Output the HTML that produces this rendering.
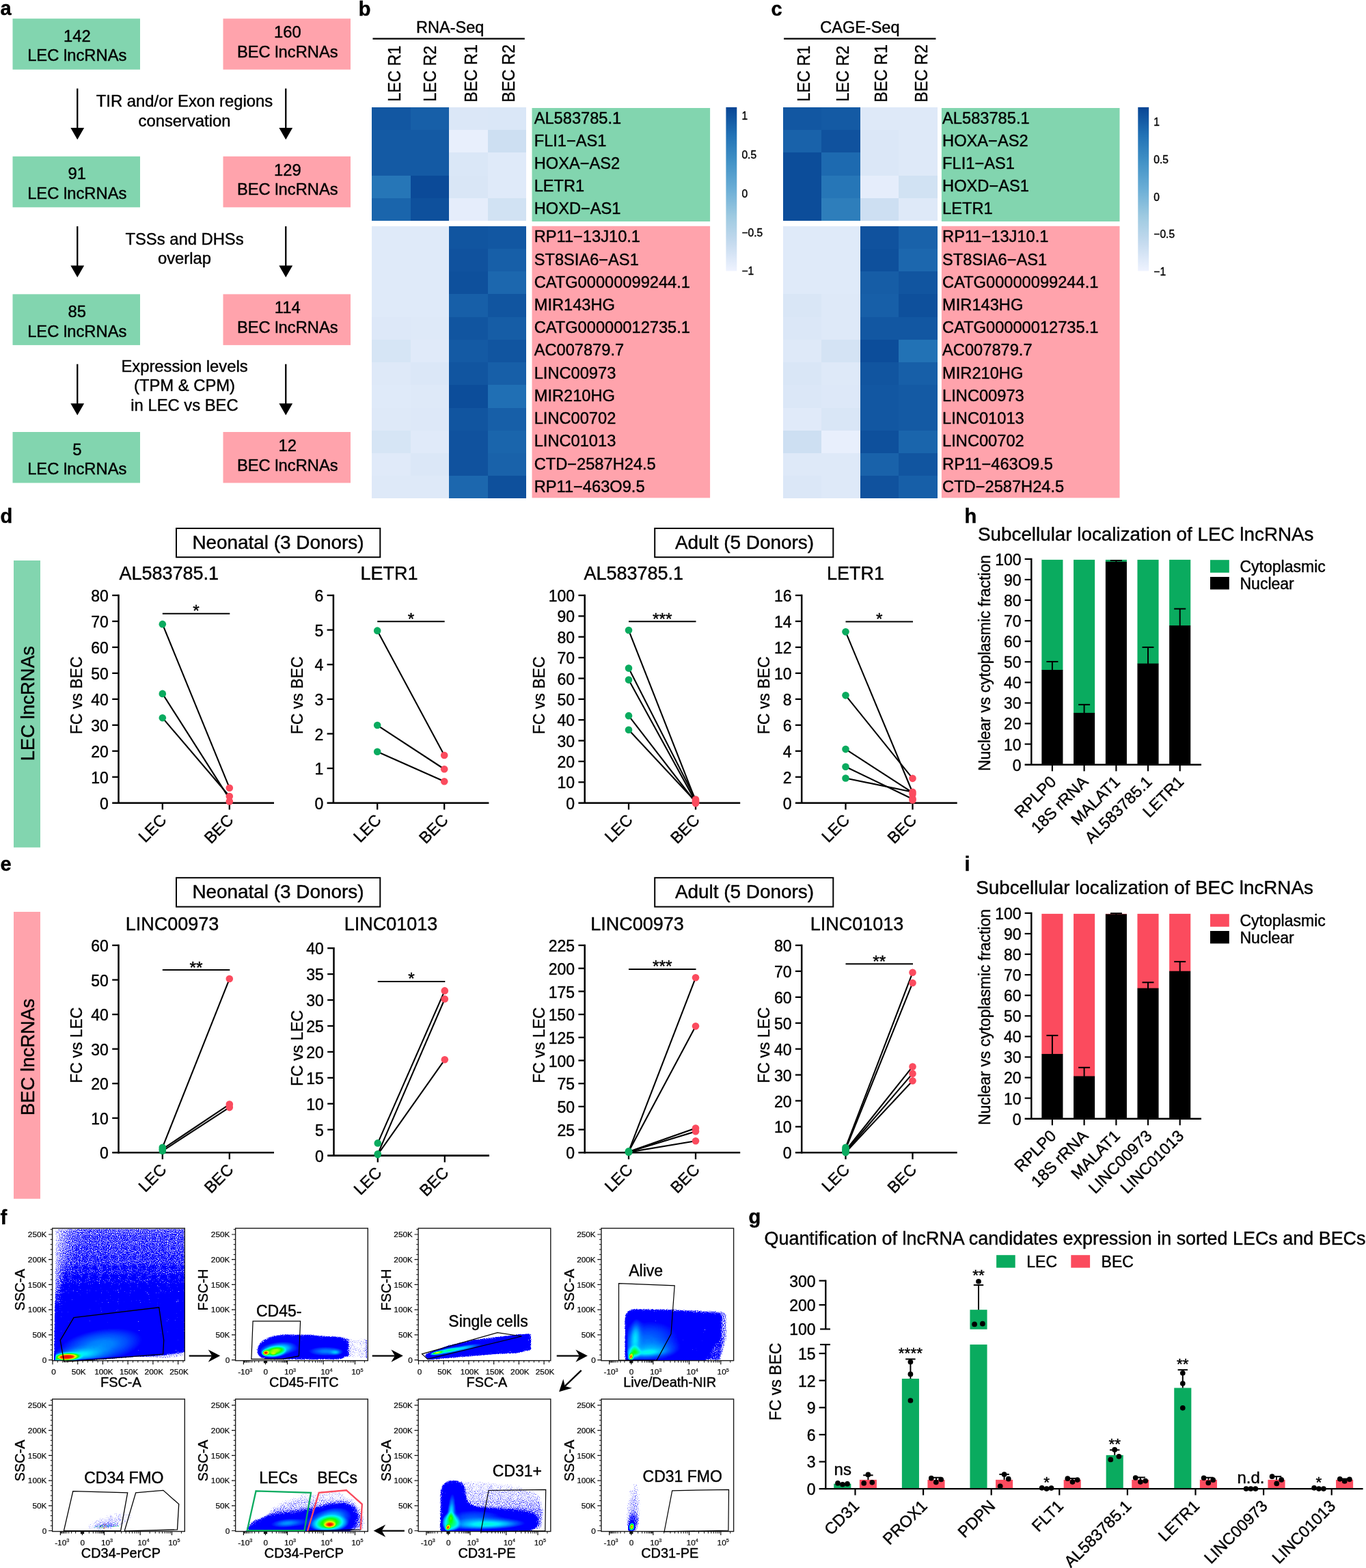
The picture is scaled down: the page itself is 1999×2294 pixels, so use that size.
<!DOCTYPE html>
<html lang="en"><head><meta charset="utf-8"><title>Figure</title>
<style>html,body{margin:0;padding:0;background:#fff}svg{display:block}text{font-family:'Liberation Sans', Arial, Helvetica, sans-serif;stroke:#000;stroke-width:.42px;stroke-linejoin:round}.s{stroke-width:.2px}</style></head>
<body><svg width="1999" height="2294" viewBox="0 0 1999 2294">
<defs>
<linearGradient id="cbb" x1="0" y1="0" x2="0" y2="1"><stop offset="0.0000" stop-color="#084594"/><stop offset="0.1667" stop-color="#2171B5"/><stop offset="0.3333" stop-color="#4292C6"/><stop offset="0.5000" stop-color="#6BAED6"/><stop offset="0.6667" stop-color="#9ECAE1"/><stop offset="0.8333" stop-color="#C6DBEF"/><stop offset="1.0000" stop-color="#EFF3FF"/></linearGradient>
<linearGradient id="cbc" x1="0" y1="0" x2="0" y2="1"><stop offset="0.0000" stop-color="#084594"/><stop offset="0.1667" stop-color="#2171B5"/><stop offset="0.3333" stop-color="#4292C6"/><stop offset="0.5000" stop-color="#6BAED6"/><stop offset="0.6667" stop-color="#9ECAE1"/><stop offset="0.8333" stop-color="#C6DBEF"/><stop offset="1.0000" stop-color="#EFF3FF"/></linearGradient>
<linearGradient id="q1" gradientUnits="userSpaceOnUse" x1="0" y1="0" x2="0" y2="193.6"><stop offset="0" stop-color="#fff" stop-opacity="0.11"/><stop offset="0.26" stop-color="#fff" stop-opacity="0.13"/><stop offset="0.44" stop-color="#fff" stop-opacity="0.15"/><stop offset="0.54" stop-color="#fff" stop-opacity="0.2"/><stop offset="0.62" stop-color="#fff" stop-opacity="0.3"/><stop offset="0.68" stop-color="#fff" stop-opacity="0.33"/><stop offset="1" stop-color="#fff" stop-opacity="0.33"/></linearGradient>
<linearGradient id="q2" gradientUnits="userSpaceOnUse" x1="6" y1="0" x2="45" y2="0"><stop offset="0" stop-color="#fff" stop-opacity="0"/><stop offset="0.5" stop-color="#fff" stop-opacity="0.04"/><stop offset="1" stop-color="#fff" stop-opacity="0.06"/></linearGradient>
<linearGradient id="q3" gradientUnits="userSpaceOnUse" x1="0" y1="0" x2="0" y2="130"><stop offset="0" stop-color="#fff" stop-opacity="0"/><stop offset="0.38" stop-color="#fff" stop-opacity="0.01"/><stop offset="0.54" stop-color="#fff" stop-opacity="0.05"/><stop offset="0.65" stop-color="#fff" stop-opacity="0.11"/><stop offset="0.77" stop-color="#fff" stop-opacity="0.15"/><stop offset="1" stop-color="#fff" stop-opacity="0"/></linearGradient>
<filter id="bl3" x="-50%" y="-50%" width="200%" height="200%"><feGaussianBlur stdDeviation="3"/></filter>
<radialGradient id="q4"><stop offset="0" stop-color="#fff" stop-opacity="0.44"/><stop offset="0.14" stop-color="#fff" stop-opacity="0.418"/><stop offset="0.29" stop-color="#fff" stop-opacity="0.356"/><stop offset="0.43" stop-color="#fff" stop-opacity="0.273"/><stop offset="0.57" stop-color="#fff" stop-opacity="0.188"/><stop offset="0.71" stop-color="#fff" stop-opacity="0.117"/><stop offset="0.86" stop-color="#fff" stop-opacity="0.065"/><stop offset="1" stop-color="#fff" stop-opacity="0"/></radialGradient>
<radialGradient id="q5"><stop offset="0" stop-color="#fff" stop-opacity="0.333"/><stop offset="0.14" stop-color="#fff" stop-opacity="0.307"/><stop offset="0.29" stop-color="#fff" stop-opacity="0.24"/><stop offset="0.43" stop-color="#fff" stop-opacity="0.16"/><stop offset="0.57" stop-color="#fff" stop-opacity="0.09"/><stop offset="0.71" stop-color="#fff" stop-opacity="0.043"/><stop offset="0.86" stop-color="#fff" stop-opacity="0.018"/><stop offset="1" stop-color="#fff" stop-opacity="0"/></radialGradient>
<radialGradient id="q6"><stop offset="0" stop-color="#fff" stop-opacity="1"/><stop offset="0.4" stop-color="#fff" stop-opacity="0.937"/><stop offset="0.52" stop-color="#fff" stop-opacity="0.688"/><stop offset="0.68" stop-color="#fff" stop-opacity="0.437"/><stop offset="0.86" stop-color="#fff" stop-opacity="0.094"/><stop offset="1" stop-color="#fff" stop-opacity="0"/></radialGradient>
<radialGradient id="q7"><stop offset="0" stop-color="#fff" stop-opacity="1"/><stop offset="0.4" stop-color="#fff" stop-opacity="0.444"/><stop offset="1" stop-color="#fff" stop-opacity="0"/></radialGradient>
<filter id="f1" x="0.7" y="0.7" width="192.3" height="192.2" filterUnits="userSpaceOnUse" color-interpolation-filters="sRGB"><feGaussianBlur in="SourceGraphic" stdDeviation="1.0" result="s"/><feTurbulence type="fractalNoise" baseFrequency="0.93" numOctaves="1" seed="2" result="n"/><feComposite in="s" in2="n" operator="arithmetic" k1="4.0" k2="0" k3="0" k4="0" result="p"/><feComponentTransfer in="p" result="m0"><feFuncA type="linear" slope="6.0" intercept="-1.3"/></feComponentTransfer><feGaussianBlur in="m0" stdDeviation="0.42" result="m"/><feColorMatrix in="s" type="matrix" values="0 0 0 1 0 0 0 0 1 0 0 0 0 1 0 0 0 0 0 1" result="g"/><feComponentTransfer in="g" result="c"><feFuncR type="table" tableValues="0 0 0 0 0 0 0 0 0 0 0 0 0 0 0 0 0 0 0 0 0 0 0 0 0 0 0 0 0 0 0 0 0 0 0 0 0 0 0 0.02 0.05 0.08 0.35 0.61 0.83 1 1 1 1 0.98 0.94"/><feFuncG type="table" tableValues="0 0 0 0 0 0 0 0 0 0 0 0 0 0 0 0 0 0 0 0 0 0 0 0 0 0 0.09 0.18 0.26 0.35 0.45 0.54 0.64 0.73 0.82 0.92 0.97 0.98 0.99 1 1 1 1 1 0.97 0.92 0.72 0.51 0.27 0.1 0"/><feFuncB type="table" tableValues="1 1 1 1 1 1 1 1 1 1 1 1 1 1 1 1 1 1 1 1 1 1 1 1 1 1 1 1 1 1 1 1 1 1 1 1 0.92 0.77 0.62 0.44 0.22 0 0 0 0 0 0 0 0 0 0"/></feComponentTransfer><feComposite in="c" in2="m" operator="in"/></filter>
<clipPath id="cf1"><path d="M3.4,0 L194,0 L194,180.6 L162,184.6 L17,195.2 L3.4,195 Z"/></clipPath>
<filter id="bl1" x="-50%" y="-50%" width="200%" height="200%"><feGaussianBlur stdDeviation="1"/></filter>
<filter id="bl1_2" x="-50%" y="-50%" width="200%" height="200%"><feGaussianBlur stdDeviation="1.2"/></filter>
<radialGradient id="q8"><stop offset="0" stop-color="#fff" stop-opacity="0.575"/><stop offset="0.14" stop-color="#fff" stop-opacity="0.53"/><stop offset="0.29" stop-color="#fff" stop-opacity="0.415"/><stop offset="0.43" stop-color="#fff" stop-opacity="0.276"/><stop offset="0.57" stop-color="#fff" stop-opacity="0.156"/><stop offset="0.71" stop-color="#fff" stop-opacity="0.075"/><stop offset="0.86" stop-color="#fff" stop-opacity="0.03"/><stop offset="1" stop-color="#fff" stop-opacity="0"/></radialGradient>
<radialGradient id="q9"><stop offset="0" stop-color="#fff" stop-opacity="0.526"/><stop offset="0.3" stop-color="#fff" stop-opacity="0.526"/><stop offset="0.6" stop-color="#fff" stop-opacity="0.395"/><stop offset="0.85" stop-color="#fff" stop-opacity="0.237"/><stop offset="1" stop-color="#fff" stop-opacity="0"/></radialGradient>
<radialGradient id="q10"><stop offset="0" stop-color="#fff" stop-opacity="0.444"/><stop offset="0.5" stop-color="#fff" stop-opacity="0.278"/><stop offset="1" stop-color="#fff" stop-opacity="0"/></radialGradient>
<radialGradient id="q11"><stop offset="0" stop-color="#fff" stop-opacity="1"/><stop offset="0.4" stop-color="#fff" stop-opacity="0.913"/><stop offset="0.6" stop-color="#fff" stop-opacity="0.565"/><stop offset="0.8" stop-color="#fff" stop-opacity="0.217"/><stop offset="1" stop-color="#fff" stop-opacity="0"/></radialGradient>
<radialGradient id="q12"><stop offset="0" stop-color="#fff" stop-opacity="0.367"/><stop offset="0.14" stop-color="#fff" stop-opacity="0.343"/><stop offset="0.29" stop-color="#fff" stop-opacity="0.28"/><stop offset="0.43" stop-color="#fff" stop-opacity="0.2"/><stop offset="0.57" stop-color="#fff" stop-opacity="0.125"/><stop offset="0.71" stop-color="#fff" stop-opacity="0.068"/><stop offset="0.86" stop-color="#fff" stop-opacity="0.032"/><stop offset="1" stop-color="#fff" stop-opacity="0"/></radialGradient>
<radialGradient id="q13"><stop offset="0" stop-color="#fff" stop-opacity="0.3"/><stop offset="0.14" stop-color="#fff" stop-opacity="0.276"/><stop offset="0.29" stop-color="#fff" stop-opacity="0.216"/><stop offset="0.43" stop-color="#fff" stop-opacity="0.144"/><stop offset="0.57" stop-color="#fff" stop-opacity="0.081"/><stop offset="0.71" stop-color="#fff" stop-opacity="0.039"/><stop offset="0.86" stop-color="#fff" stop-opacity="0.016"/><stop offset="1" stop-color="#fff" stop-opacity="0"/></radialGradient>
<filter id="f2" x="0.7" y="0.7" width="192.3" height="192.2" filterUnits="userSpaceOnUse" color-interpolation-filters="sRGB"><feGaussianBlur in="SourceGraphic" stdDeviation="1.0" result="s"/><feTurbulence type="fractalNoise" baseFrequency="0.93" numOctaves="1" seed="5" result="n"/><feComposite in="s" in2="n" operator="arithmetic" k1="4.0" k2="0" k3="0" k4="0" result="p"/><feComponentTransfer in="p" result="m0"><feFuncA type="linear" slope="6.0" intercept="-1.3"/></feComponentTransfer><feGaussianBlur in="m0" stdDeviation="0.42" result="m"/><feColorMatrix in="s" type="matrix" values="0 0 0 1 0 0 0 0 1 0 0 0 0 1 0 0 0 0 0 1" result="g"/><feComponentTransfer in="g" result="c"><feFuncR type="table" tableValues="0 0 0 0 0 0 0 0 0 0 0 0 0 0 0 0 0 0 0 0 0 0 0 0 0 0 0 0 0 0 0 0 0 0 0 0 0 0 0 0.02 0.05 0.08 0.35 0.61 0.83 1 1 1 1 0.98 0.94"/><feFuncG type="table" tableValues="0 0 0 0 0 0 0 0 0 0 0 0 0 0 0 0 0 0 0 0 0 0 0 0 0 0 0.09 0.18 0.26 0.35 0.45 0.54 0.64 0.73 0.82 0.92 0.97 0.98 0.99 1 1 1 1 1 0.97 0.92 0.72 0.51 0.27 0.1 0"/><feFuncB type="table" tableValues="1 1 1 1 1 1 1 1 1 1 1 1 1 1 1 1 1 1 1 1 1 1 1 1 1 1 1 1 1 1 1 1 1 1 1 1 0.92 0.77 0.62 0.44 0.22 0 0 0 0 0 0 0 0 0 0"/></feComponentTransfer><feComposite in="c" in2="m" operator="in"/></filter>
<clipPath id="cf2"><path d="M34,180 C34,166 52,157.5 76,157.2 L110,157.8 C128,160.5 145,160 153,161 C159,162 161.8,166 161.8,172 L161.8,181 C161.8,187 157,190.6 147,190.6 L52,190.6 C41,190 34,186 34,180 Z"/></clipPath>
<radialGradient id="q14"><stop offset="0" stop-color="#fff" stop-opacity="0.55"/><stop offset="0.14" stop-color="#fff" stop-opacity="0.507"/><stop offset="0.29" stop-color="#fff" stop-opacity="0.397"/><stop offset="0.43" stop-color="#fff" stop-opacity="0.264"/><stop offset="0.57" stop-color="#fff" stop-opacity="0.149"/><stop offset="0.71" stop-color="#fff" stop-opacity="0.071"/><stop offset="0.86" stop-color="#fff" stop-opacity="0.029"/><stop offset="1" stop-color="#fff" stop-opacity="0"/></radialGradient>
<radialGradient id="q15"><stop offset="0" stop-color="#fff" stop-opacity="0.379"/><stop offset="0.4" stop-color="#fff" stop-opacity="0.379"/><stop offset="0.7" stop-color="#fff" stop-opacity="0.207"/><stop offset="1" stop-color="#fff" stop-opacity="0"/></radialGradient>
<radialGradient id="q16"><stop offset="0" stop-color="#fff" stop-opacity="1"/><stop offset="0.5" stop-color="#fff" stop-opacity="0.667"/><stop offset="0.75" stop-color="#fff" stop-opacity="0.444"/><stop offset="1" stop-color="#fff" stop-opacity="0"/></radialGradient>
<filter id="f3" x="0.7" y="0.7" width="192.3" height="192.2" filterUnits="userSpaceOnUse" color-interpolation-filters="sRGB"><feGaussianBlur in="SourceGraphic" stdDeviation="0.8" result="s"/><feTurbulence type="fractalNoise" baseFrequency="0.93" numOctaves="1" seed="7" result="n"/><feComposite in="s" in2="n" operator="arithmetic" k1="4.0" k2="0" k3="0" k4="0" result="p"/><feComponentTransfer in="p" result="m0"><feFuncA type="linear" slope="6.0" intercept="-1.3"/></feComponentTransfer><feGaussianBlur in="m0" stdDeviation="0.42" result="m"/><feColorMatrix in="s" type="matrix" values="0 0 0 1 0 0 0 0 1 0 0 0 0 1 0 0 0 0 0 1" result="g"/><feComponentTransfer in="g" result="c"><feFuncR type="table" tableValues="0 0 0 0 0 0 0 0 0 0 0 0 0 0 0 0 0 0 0 0 0 0 0 0 0 0 0 0 0 0 0 0 0 0 0 0 0 0 0 0.02 0.05 0.08 0.35 0.61 0.83 1 1 1 1 0.98 0.94"/><feFuncG type="table" tableValues="0 0 0 0 0 0 0 0 0 0 0 0 0 0 0 0 0 0 0 0 0 0 0 0 0 0 0.09 0.18 0.26 0.35 0.45 0.54 0.64 0.73 0.82 0.92 0.97 0.98 0.99 1 1 1 1 1 0.97 0.92 0.72 0.51 0.27 0.1 0"/><feFuncB type="table" tableValues="1 1 1 1 1 1 1 1 1 1 1 1 1 1 1 1 1 1 1 1 1 1 1 1 1 1 1 1 1 1 1 1 1 1 1 1 0.92 0.77 0.62 0.44 0.22 0 0 0 0 0 0 0 0 0 0"/></feComponentTransfer><feComposite in="c" in2="m" operator="in"/></filter>
<clipPath id="cf3"><path d="M11.1,188.1 L11.8,185.1 L45.1,172.4 L78.6,164.9 L112.1,160.7 L145.5,156.5 L164,155.6 L164,177 L145.5,181.2 L112.1,182.9 L61.8,187.1 L15,191.2 Z"/></clipPath>
<radialGradient id="q17"><stop offset="0" stop-color="#fff" stop-opacity="0.333"/><stop offset="0.14" stop-color="#fff" stop-opacity="0.316"/><stop offset="0.29" stop-color="#fff" stop-opacity="0.27"/><stop offset="0.43" stop-color="#fff" stop-opacity="0.207"/><stop offset="0.57" stop-color="#fff" stop-opacity="0.143"/><stop offset="0.71" stop-color="#fff" stop-opacity="0.088"/><stop offset="0.86" stop-color="#fff" stop-opacity="0.049"/><stop offset="1" stop-color="#fff" stop-opacity="0"/></radialGradient>
<radialGradient id="q18"><stop offset="0" stop-color="#fff" stop-opacity="0.2"/><stop offset="0.14" stop-color="#fff" stop-opacity="0.184"/><stop offset="0.29" stop-color="#fff" stop-opacity="0.144"/><stop offset="0.43" stop-color="#fff" stop-opacity="0.096"/><stop offset="0.57" stop-color="#fff" stop-opacity="0.054"/><stop offset="0.71" stop-color="#fff" stop-opacity="0.026"/><stop offset="0.86" stop-color="#fff" stop-opacity="0.011"/><stop offset="1" stop-color="#fff" stop-opacity="0"/></radialGradient>
<radialGradient id="q19"><stop offset="0" stop-color="#fff" stop-opacity="0.292"/><stop offset="0.14" stop-color="#fff" stop-opacity="0.269"/><stop offset="0.29" stop-color="#fff" stop-opacity="0.21"/><stop offset="0.43" stop-color="#fff" stop-opacity="0.14"/><stop offset="0.57" stop-color="#fff" stop-opacity="0.079"/><stop offset="0.71" stop-color="#fff" stop-opacity="0.038"/><stop offset="0.86" stop-color="#fff" stop-opacity="0.015"/><stop offset="1" stop-color="#fff" stop-opacity="0"/></radialGradient>
<radialGradient id="q20"><stop offset="0" stop-color="#fff" stop-opacity="0.25"/><stop offset="0.14" stop-color="#fff" stop-opacity="0.23"/><stop offset="0.29" stop-color="#fff" stop-opacity="0.18"/><stop offset="0.43" stop-color="#fff" stop-opacity="0.12"/><stop offset="0.57" stop-color="#fff" stop-opacity="0.068"/><stop offset="0.71" stop-color="#fff" stop-opacity="0.032"/><stop offset="0.86" stop-color="#fff" stop-opacity="0.013"/><stop offset="1" stop-color="#fff" stop-opacity="0"/></radialGradient>
<radialGradient id="q21"><stop offset="0" stop-color="#fff" stop-opacity="0.471"/><stop offset="0.4" stop-color="#fff" stop-opacity="0.324"/><stop offset="0.75" stop-color="#fff" stop-opacity="0.147"/><stop offset="1" stop-color="#fff" stop-opacity="0"/></radialGradient>
<radialGradient id="q22"><stop offset="0" stop-color="#fff" stop-opacity="1"/><stop offset="0.35" stop-color="#fff" stop-opacity="0.913"/><stop offset="0.55" stop-color="#fff" stop-opacity="0.565"/><stop offset="0.8" stop-color="#fff" stop-opacity="0.217"/><stop offset="1" stop-color="#fff" stop-opacity="0"/></radialGradient>
<filter id="f4" x="0.7" y="0.7" width="192.3" height="192.2" filterUnits="userSpaceOnUse" color-interpolation-filters="sRGB"><feGaussianBlur in="SourceGraphic" stdDeviation="1.0" result="s"/><feTurbulence type="fractalNoise" baseFrequency="0.93" numOctaves="1" seed="9" result="n"/><feComposite in="s" in2="n" operator="arithmetic" k1="4.0" k2="0" k3="0" k4="0" result="p"/><feComponentTransfer in="p" result="m0"><feFuncA type="linear" slope="6.0" intercept="-1.3"/></feComponentTransfer><feGaussianBlur in="m0" stdDeviation="0.42" result="m"/><feColorMatrix in="s" type="matrix" values="0 0 0 1 0 0 0 0 1 0 0 0 0 1 0 0 0 0 0 1" result="g"/><feComponentTransfer in="g" result="c"><feFuncR type="table" tableValues="0 0 0 0 0 0 0 0 0 0 0 0 0 0 0 0 0 0 0 0 0 0 0 0 0 0 0 0 0 0 0 0 0 0 0 0 0 0 0 0.02 0.05 0.08 0.35 0.61 0.83 1 1 1 1 0.98 0.94"/><feFuncG type="table" tableValues="0 0 0 0 0 0 0 0 0 0 0 0 0 0 0 0 0 0 0 0 0 0 0 0 0 0 0.09 0.18 0.26 0.35 0.45 0.54 0.64 0.73 0.82 0.92 0.97 0.98 0.99 1 1 1 1 1 0.97 0.92 0.72 0.51 0.27 0.1 0"/><feFuncB type="table" tableValues="1 1 1 1 1 1 1 1 1 1 1 1 1 1 1 1 1 1 1 1 1 1 1 1 1 1 1 1 1 1 1 1 1 1 1 1 0.92 0.77 0.62 0.44 0.22 0 0 0 0 0 0 0 0 0 0"/></feComponentTransfer><feComposite in="c" in2="m" operator="in"/></filter>
<clipPath id="cf4"><path d="M36.4,194 L36.4,134 C36.4,125 41,120.3 50,120.3 L98,121 L172,125.5 L175,129 L174,160 L163,172 L150,194 Z"/></clipPath>
<radialGradient id="q23"><stop offset="0" stop-color="#fff" stop-opacity="0.114"/><stop offset="0.4" stop-color="#fff" stop-opacity="0.109"/><stop offset="0.75" stop-color="#fff" stop-opacity="0.102"/><stop offset="1" stop-color="#fff" stop-opacity="0.09"/></radialGradient>
<radialGradient id="q24"><stop offset="0" stop-color="#fff" stop-opacity="0.05"/><stop offset="0.6" stop-color="#fff" stop-opacity="0.03"/><stop offset="1" stop-color="#fff" stop-opacity="0"/></radialGradient>
<filter id="f5" x="0.7" y="0.7" width="192.3" height="192.2" filterUnits="userSpaceOnUse" color-interpolation-filters="sRGB"><feGaussianBlur in="SourceGraphic" stdDeviation="0.5" result="s"/><feTurbulence type="fractalNoise" baseFrequency="0.93" numOctaves="1" seed="11" result="n"/><feComposite in="s" in2="n" operator="arithmetic" k1="4.0" k2="0" k3="0" k4="0" result="p"/><feComponentTransfer in="p" result="m0"><feFuncA type="linear" slope="6.0" intercept="-1.3"/></feComponentTransfer><feGaussianBlur in="m0" stdDeviation="0.42" result="m"/><feColorMatrix in="s" type="matrix" values="0 0 0 1 0 0 0 0 1 0 0 0 0 1 0 0 0 0 0 1" result="g"/><feComponentTransfer in="g" result="c"><feFuncR type="table" tableValues="0 0 0 0 0 0 0 0 0 0 0 0 0 0 0 0 0 0 0 0 0 0 0 0 0 0 0 0 0 0 0 0 0 0 0 0 0 0 0 0.02 0.05 0.08 0.35 0.61 0.83 1 1 1 1 0.98 0.94"/><feFuncG type="table" tableValues="0 0 0 0 0 0 0 0 0 0 0 0 0 0 0 0 0 0 0 0 0 0 0 0 0 0 0.09 0.18 0.26 0.35 0.45 0.54 0.64 0.73 0.82 0.92 0.97 0.98 0.99 1 1 1 1 1 0.97 0.92 0.72 0.51 0.27 0.1 0"/><feFuncB type="table" tableValues="1 1 1 1 1 1 1 1 1 1 1 1 1 1 1 1 1 1 1 1 1 1 1 1 1 1 1 1 1 1 1 1 1 1 1 1 0.92 0.77 0.62 0.44 0.22 0 0 0 0 0 0 0 0 0 0"/></feComponentTransfer><feComposite in="c" in2="m" operator="in"/></filter>
<linearGradient id="q25" gradientUnits="userSpaceOnUse" x1="0" y1="130" x2="0" y2="172"><stop offset="0" stop-color="#fff" stop-opacity="0.1"/><stop offset="0.4" stop-color="#fff" stop-opacity="0.11"/><stop offset="0.8" stop-color="#fff" stop-opacity="0.13"/><stop offset="1" stop-color="#fff" stop-opacity="0.15"/></linearGradient>
<filter id="bl5" x="-50%" y="-50%" width="200%" height="200%"><feGaussianBlur stdDeviation="5"/></filter>
<filter id="bl2" x="-50%" y="-50%" width="200%" height="200%"><feGaussianBlur stdDeviation="2"/></filter>
<radialGradient id="q26"><stop offset="0" stop-color="#fff" stop-opacity="0.362"/><stop offset="0.14" stop-color="#fff" stop-opacity="0.334"/><stop offset="0.29" stop-color="#fff" stop-opacity="0.261"/><stop offset="0.43" stop-color="#fff" stop-opacity="0.174"/><stop offset="0.57" stop-color="#fff" stop-opacity="0.098"/><stop offset="0.71" stop-color="#fff" stop-opacity="0.047"/><stop offset="0.86" stop-color="#fff" stop-opacity="0.019"/><stop offset="1" stop-color="#fff" stop-opacity="0"/></radialGradient>
<radialGradient id="q27"><stop offset="0" stop-color="#fff" stop-opacity="0.483"/><stop offset="0.14" stop-color="#fff" stop-opacity="0.445"/><stop offset="0.29" stop-color="#fff" stop-opacity="0.348"/><stop offset="0.43" stop-color="#fff" stop-opacity="0.232"/><stop offset="0.57" stop-color="#fff" stop-opacity="0.131"/><stop offset="0.71" stop-color="#fff" stop-opacity="0.063"/><stop offset="0.86" stop-color="#fff" stop-opacity="0.026"/><stop offset="1" stop-color="#fff" stop-opacity="0"/></radialGradient>
<radialGradient id="q28"><stop offset="0" stop-color="#fff" stop-opacity="0.486"/><stop offset="0.45" stop-color="#fff" stop-opacity="0.486"/><stop offset="0.62" stop-color="#fff" stop-opacity="0.343"/><stop offset="0.82" stop-color="#fff" stop-opacity="0.171"/><stop offset="1" stop-color="#fff" stop-opacity="0"/></radialGradient>
<radialGradient id="q29"><stop offset="0" stop-color="#fff" stop-opacity="1"/><stop offset="0.36" stop-color="#fff" stop-opacity="0.889"/><stop offset="0.6" stop-color="#fff" stop-opacity="0.667"/><stop offset="0.82" stop-color="#fff" stop-opacity="0.444"/><stop offset="1" stop-color="#fff" stop-opacity="0"/></radialGradient>
<filter id="f6" x="0.7" y="0.7" width="192.3" height="192.2" filterUnits="userSpaceOnUse" color-interpolation-filters="sRGB"><feGaussianBlur in="SourceGraphic" stdDeviation="1.0" result="s"/><feTurbulence type="fractalNoise" baseFrequency="0.93" numOctaves="1" seed="13" result="n"/><feComposite in="s" in2="n" operator="arithmetic" k1="4.0" k2="0" k3="0" k4="0" result="p"/><feComponentTransfer in="p" result="m0"><feFuncA type="linear" slope="6.0" intercept="-1.3"/></feComponentTransfer><feGaussianBlur in="m0" stdDeviation="0.42" result="m"/><feColorMatrix in="s" type="matrix" values="0 0 0 1 0 0 0 0 1 0 0 0 0 1 0 0 0 0 0 1" result="g"/><feComponentTransfer in="g" result="c"><feFuncR type="table" tableValues="0 0 0 0 0 0 0 0 0 0 0 0 0 0 0 0 0 0 0 0 0 0 0 0 0 0 0 0 0 0 0 0 0 0 0 0 0 0 0 0.02 0.05 0.08 0.35 0.61 0.83 1 1 1 1 0.98 0.94"/><feFuncG type="table" tableValues="0 0 0 0 0 0 0 0 0 0 0 0 0 0 0 0 0 0 0 0 0 0 0 0 0 0 0.09 0.18 0.26 0.35 0.45 0.54 0.64 0.73 0.82 0.92 0.97 0.98 0.99 1 1 1 1 1 0.97 0.92 0.72 0.51 0.27 0.1 0"/><feFuncB type="table" tableValues="1 1 1 1 1 1 1 1 1 1 1 1 1 1 1 1 1 1 1 1 1 1 1 1 1 1 1 1 1 1 1 1 1 1 1 1 0.92 0.77 0.62 0.44 0.22 0 0 0 0 0 0 0 0 0 0"/></feComponentTransfer><feComposite in="c" in2="m" operator="in"/></filter>
<clipPath id="cf6"><path d="M19.5,194 L22.5,185.5 L27,179.5 L59.3,171.4 L92.8,167.2 L117.9,162.5 L143,155.8 L159,155 L171,160.5 L174.5,171.3 L171.5,184 L163,194 Z"/></clipPath>
<linearGradient id="q30" gradientUnits="userSpaceOnUse" x1="0" y1="116" x2="0" y2="164"><stop offset="0" stop-color="#fff" stop-opacity="0.1"/><stop offset="0.3" stop-color="#fff" stop-opacity="0.11"/><stop offset="0.7" stop-color="#fff" stop-opacity="0.12"/><stop offset="1" stop-color="#fff" stop-opacity="0.14"/></linearGradient>
<filter id="bl1_5" x="-50%" y="-50%" width="200%" height="200%"><feGaussianBlur stdDeviation="1.5"/></filter>
<radialGradient id="q31"><stop offset="0" stop-color="#fff" stop-opacity="0.414"/><stop offset="0.14" stop-color="#fff" stop-opacity="0.381"/><stop offset="0.29" stop-color="#fff" stop-opacity="0.299"/><stop offset="0.43" stop-color="#fff" stop-opacity="0.198"/><stop offset="0.57" stop-color="#fff" stop-opacity="0.112"/><stop offset="0.71" stop-color="#fff" stop-opacity="0.054"/><stop offset="0.86" stop-color="#fff" stop-opacity="0.022"/><stop offset="1" stop-color="#fff" stop-opacity="0"/></radialGradient>
<radialGradient id="q32"><stop offset="0" stop-color="#fff" stop-opacity="0.284"/><stop offset="0.14" stop-color="#fff" stop-opacity="0.269"/><stop offset="0.29" stop-color="#fff" stop-opacity="0.227"/><stop offset="0.43" stop-color="#fff" stop-opacity="0.171"/><stop offset="0.57" stop-color="#fff" stop-opacity="0.115"/><stop offset="0.71" stop-color="#fff" stop-opacity="0.069"/><stop offset="0.86" stop-color="#fff" stop-opacity="0.037"/><stop offset="1" stop-color="#fff" stop-opacity="0"/></radialGradient>
<radialGradient id="q33"><stop offset="0" stop-color="#fff" stop-opacity="0.45"/><stop offset="0.14" stop-color="#fff" stop-opacity="0.424"/><stop offset="0.29" stop-color="#fff" stop-opacity="0.353"/><stop offset="0.43" stop-color="#fff" stop-opacity="0.261"/><stop offset="0.57" stop-color="#fff" stop-opacity="0.17"/><stop offset="0.71" stop-color="#fff" stop-opacity="0.099"/><stop offset="0.86" stop-color="#fff" stop-opacity="0.051"/><stop offset="1" stop-color="#fff" stop-opacity="0"/></radialGradient>
<radialGradient id="q34"><stop offset="0" stop-color="#fff" stop-opacity="0.325"/><stop offset="0.14" stop-color="#fff" stop-opacity="0.3"/><stop offset="0.29" stop-color="#fff" stop-opacity="0.234"/><stop offset="0.43" stop-color="#fff" stop-opacity="0.156"/><stop offset="0.57" stop-color="#fff" stop-opacity="0.088"/><stop offset="0.71" stop-color="#fff" stop-opacity="0.042"/><stop offset="0.86" stop-color="#fff" stop-opacity="0.017"/><stop offset="1" stop-color="#fff" stop-opacity="0"/></radialGradient>
<radialGradient id="q35"><stop offset="0" stop-color="#fff" stop-opacity="0.471"/><stop offset="0.45" stop-color="#fff" stop-opacity="0.471"/><stop offset="0.7" stop-color="#fff" stop-opacity="0.324"/><stop offset="1" stop-color="#fff" stop-opacity="0"/></radialGradient>
<radialGradient id="q36"><stop offset="0" stop-color="#fff" stop-opacity="1"/><stop offset="0.4" stop-color="#fff" stop-opacity="0.889"/><stop offset="0.6" stop-color="#fff" stop-opacity="0.444"/><stop offset="0.85" stop-color="#fff" stop-opacity="0"/><stop offset="1" stop-color="#fff" stop-opacity="0"/></radialGradient>
<filter id="f7" x="0.7" y="0.7" width="192.3" height="192.2" filterUnits="userSpaceOnUse" color-interpolation-filters="sRGB"><feGaussianBlur in="SourceGraphic" stdDeviation="1.0" result="s"/><feTurbulence type="fractalNoise" baseFrequency="0.93" numOctaves="1" seed="17" result="n"/><feComposite in="s" in2="n" operator="arithmetic" k1="4.0" k2="0" k3="0" k4="0" result="p"/><feComponentTransfer in="p" result="m0"><feFuncA type="linear" slope="6.0" intercept="-1.3"/></feComponentTransfer><feGaussianBlur in="m0" stdDeviation="0.42" result="m"/><feColorMatrix in="s" type="matrix" values="0 0 0 1 0 0 0 0 1 0 0 0 0 1 0 0 0 0 0 1" result="g"/><feComponentTransfer in="g" result="c"><feFuncR type="table" tableValues="0 0 0 0 0 0 0 0 0 0 0 0 0 0 0 0 0 0 0 0 0 0 0 0 0 0 0 0 0 0 0 0 0 0 0 0 0 0 0 0.02 0.05 0.08 0.35 0.61 0.83 1 1 1 1 0.98 0.94"/><feFuncG type="table" tableValues="0 0 0 0 0 0 0 0 0 0 0 0 0 0 0 0 0 0 0 0 0 0 0 0 0 0 0.09 0.18 0.26 0.35 0.45 0.54 0.64 0.73 0.82 0.92 0.97 0.98 0.99 1 1 1 1 1 0.97 0.92 0.72 0.51 0.27 0.1 0"/><feFuncB type="table" tableValues="1 1 1 1 1 1 1 1 1 1 1 1 1 1 1 1 1 1 1 1 1 1 1 1 1 1 1 1 1 1 1 1 1 1 1 1 0.92 0.77 0.62 0.44 0.22 0 0 0 0 0 0 0 0 0 0"/></feComponentTransfer><feComposite in="c" in2="m" operator="in"/></filter>
<clipPath id="cf7"><path d="M33.2,194 L33.4,140 C33.4,127 39,120 50,120 C59,120 65,125 66,134 C67.5,148 72,156 86,160 L140,164.5 C162,166 173,171 173,179 C173,186 167,191 156,194 Z"/></clipPath>
<radialGradient id="q37"><stop offset="0" stop-color="#fff" stop-opacity="0.13"/><stop offset="0.5" stop-color="#fff" stop-opacity="0.118"/><stop offset="1" stop-color="#fff" stop-opacity="0.09"/></radialGradient>
<radialGradient id="q38"><stop offset="0" stop-color="#fff" stop-opacity="0.03"/><stop offset="1" stop-color="#fff" stop-opacity="0"/></radialGradient>
<radialGradient id="q39"><stop offset="0" stop-color="#fff" stop-opacity="0.1"/><stop offset="0.5" stop-color="#fff" stop-opacity="0.06"/><stop offset="1" stop-color="#fff" stop-opacity="0"/></radialGradient>
<radialGradient id="q40"><stop offset="0" stop-color="#fff" stop-opacity="1"/><stop offset="0.14" stop-color="#fff" stop-opacity="0.9"/><stop offset="0.3" stop-color="#fff" stop-opacity="0.82"/><stop offset="0.5" stop-color="#fff" stop-opacity="0.71"/><stop offset="0.68" stop-color="#fff" stop-opacity="0.3"/><stop offset="0.85" stop-color="#fff" stop-opacity="0.08"/><stop offset="1" stop-color="#fff" stop-opacity="0"/></radialGradient>
<filter id="f8" x="0.7" y="0.7" width="192.3" height="192.2" filterUnits="userSpaceOnUse" color-interpolation-filters="sRGB"><feGaussianBlur in="SourceGraphic" stdDeviation="0.5" result="s"/><feTurbulence type="fractalNoise" baseFrequency="0.93" numOctaves="1" seed="19" result="n"/><feComposite in="s" in2="n" operator="arithmetic" k1="4.0" k2="0" k3="0" k4="0" result="p"/><feComponentTransfer in="p" result="m0"><feFuncA type="linear" slope="6.0" intercept="-1.3"/></feComponentTransfer><feGaussianBlur in="m0" stdDeviation="0.42" result="m"/><feColorMatrix in="s" type="matrix" values="0 0 0 1 0 0 0 0 1 0 0 0 0 1 0 0 0 0 0 1" result="g"/><feComponentTransfer in="g" result="c"><feFuncR type="table" tableValues="0 0 0 0 0 0 0 0 0 0 0 0 0 0 0 0 0 0 0 0 0 0 0 0 0 0 0 0 0 0 0 0 0 0 0 0 0 0 0 0.02 0.05 0.08 0.35 0.61 0.83 1 1 1 1 0.98 0.94"/><feFuncG type="table" tableValues="0 0 0 0 0 0 0 0 0 0 0 0 0 0 0 0 0 0 0 0 0 0 0 0 0 0 0.09 0.18 0.26 0.35 0.45 0.54 0.64 0.73 0.82 0.92 0.97 0.98 0.99 1 1 1 1 1 0.97 0.92 0.72 0.51 0.27 0.1 0"/><feFuncB type="table" tableValues="1 1 1 1 1 1 1 1 1 1 1 1 1 1 1 1 1 1 1 1 1 1 1 1 1 1 1 1 1 1 1 1 1 1 1 1 0.92 0.77 0.62 0.44 0.22 0 0 0 0 0 0 0 0 0 0"/></feComponentTransfer><feComposite in="c" in2="m" operator="in"/></filter>
</defs>
<rect width="1999" height="2294" fill="#fff"/>
<text x="0.5" y="22" font-size="29" font-weight="bold" >a</text>
<rect x="18.5" y="27.25" width="186.5" height="74.5" fill="#82D5AF" />
<rect x="326.5" y="27.25" width="186.5" height="74.5" fill="#FFA3AC" />
<text x="112.8" y="60.75" font-size="23.8" text-anchor="middle" >142</text>
<text x="112.8" y="89.45" font-size="23.8" text-anchor="middle" textLength="145.3" lengthAdjust="spacingAndGlyphs" >LEC lncRNAs</text>
<text x="420.8" y="55.05" font-size="23.8" text-anchor="middle" >160</text>
<text x="420.8" y="83.75" font-size="23.8" text-anchor="middle" textLength="147.6" lengthAdjust="spacingAndGlyphs" >BEC lncRNAs</text>
<rect x="18.5" y="228.8" width="186.5" height="74.5" fill="#82D5AF" />
<rect x="326.5" y="228.8" width="186.5" height="74.5" fill="#FFA3AC" />
<text x="112.8" y="262.3" font-size="23.8" text-anchor="middle" >91</text>
<text x="112.8" y="291" font-size="23.8" text-anchor="middle" textLength="145.3" lengthAdjust="spacingAndGlyphs" >LEC lncRNAs</text>
<text x="420.8" y="256.6" font-size="23.8" text-anchor="middle" >129</text>
<text x="420.8" y="285.3" font-size="23.8" text-anchor="middle" textLength="147.6" lengthAdjust="spacingAndGlyphs" >BEC lncRNAs</text>
<rect x="18.5" y="430.4" width="186.5" height="74.5" fill="#82D5AF" />
<rect x="326.5" y="430.4" width="186.5" height="74.5" fill="#FFA3AC" />
<text x="112.8" y="463.9" font-size="23.8" text-anchor="middle" >85</text>
<text x="112.8" y="492.6" font-size="23.8" text-anchor="middle" textLength="145.3" lengthAdjust="spacingAndGlyphs" >LEC lncRNAs</text>
<text x="420.8" y="458.2" font-size="23.8" text-anchor="middle" >114</text>
<text x="420.8" y="486.9" font-size="23.8" text-anchor="middle" textLength="147.6" lengthAdjust="spacingAndGlyphs" >BEC lncRNAs</text>
<rect x="18.5" y="632" width="186.5" height="74.5" fill="#82D5AF" />
<rect x="326.5" y="632" width="186.5" height="74.5" fill="#FFA3AC" />
<text x="112.8" y="665.5" font-size="23.8" text-anchor="middle" >5</text>
<text x="112.8" y="694.2" font-size="23.8" text-anchor="middle" textLength="145.3" lengthAdjust="spacingAndGlyphs" >LEC lncRNAs</text>
<text x="420.8" y="659.8" font-size="23.8" text-anchor="middle" >12</text>
<text x="420.8" y="688.5" font-size="23.8" text-anchor="middle" textLength="147.6" lengthAdjust="spacingAndGlyphs" >BEC lncRNAs</text>
<line x1="113.25" y1="129.5" x2="113.25" y2="187.95" stroke="#000" stroke-width="2.3" stroke-linecap="butt" />
<polygon points="113.25,204.25 103.35,186.95 123.15,186.95" fill="#000" stroke="none" stroke-width="0" stroke-linejoin="miter" />
<line x1="418.25" y1="129.5" x2="418.25" y2="187.95" stroke="#000" stroke-width="2.3" stroke-linecap="butt" />
<polygon points="418.25,204.25 408.35,186.95 428.15,186.95" fill="#000" stroke="none" stroke-width="0" stroke-linejoin="miter" />
<line x1="113.25" y1="331.1" x2="113.25" y2="389.55" stroke="#000" stroke-width="2.3" stroke-linecap="butt" />
<polygon points="113.25,405.85 103.35,388.55 123.15,388.55" fill="#000" stroke="none" stroke-width="0" stroke-linejoin="miter" />
<line x1="418.25" y1="331.1" x2="418.25" y2="389.55" stroke="#000" stroke-width="2.3" stroke-linecap="butt" />
<polygon points="418.25,405.85 408.35,388.55 428.15,388.55" fill="#000" stroke="none" stroke-width="0" stroke-linejoin="miter" />
<line x1="113.25" y1="532.7" x2="113.25" y2="591.15" stroke="#000" stroke-width="2.3" stroke-linecap="butt" />
<polygon points="113.25,607.45 103.35,590.15 123.15,590.15" fill="#000" stroke="none" stroke-width="0" stroke-linejoin="miter" />
<line x1="418.25" y1="532.7" x2="418.25" y2="591.15" stroke="#000" stroke-width="2.3" stroke-linecap="butt" />
<polygon points="418.25,607.45 408.35,590.15 428.15,590.15" fill="#000" stroke="none" stroke-width="0" stroke-linejoin="miter" />
<text x="270" y="156.3" font-size="23.8" text-anchor="middle" textLength="258.5" lengthAdjust="spacingAndGlyphs" >TIR and/or Exon regions</text>
<text x="270" y="184.5" font-size="23.8" text-anchor="middle" >conservation</text>
<text x="270" y="357.9" font-size="23.8" text-anchor="middle" >TSSs and DHSs</text>
<text x="270" y="386.2" font-size="23.8" text-anchor="middle" >overlap</text>
<text x="270" y="544.2" font-size="23.8" text-anchor="middle" >Expression levels</text>
<text x="270" y="572.4" font-size="23.8" text-anchor="middle" >(TPM &amp; CPM)</text>
<text x="270" y="600.7" font-size="23.8" text-anchor="middle" >in LEC vs BEC</text>
<text x="524.75" y="23" font-size="29" font-weight="bold" >b</text>
<text x="658.75" y="48.3" font-size="23.5" text-anchor="middle" >RNA-Seq</text>
<line x1="545.45" y1="56.6" x2="767.85" y2="56.6" stroke="#000" stroke-width="2.4" stroke-linecap="butt" />
<text transform="translate(585.75 148.7) rotate(-90)" font-size="25.6" textLength="82.03" lengthAdjust="spacingAndGlyphs" >LEC R1</text>
<text transform="translate(638.05 148.7) rotate(-90)" font-size="25.6" textLength="82.03" lengthAdjust="spacingAndGlyphs" >LEC R2</text>
<text transform="translate(698.35 149.7) rotate(-90)" font-size="25.6" textLength="84.62" lengthAdjust="spacingAndGlyphs" >BEC R1</text>
<text transform="translate(752.65 149.7) rotate(-90)" font-size="25.6" textLength="84.62" lengthAdjust="spacingAndGlyphs" >BEC R2</text>
<rect x="544.23" y="157" width="56.74" height="33.52" fill="#1257A2" shape-rendering="crispEdges"/>
<rect x="600.67" y="157" width="56.74" height="33.52" fill="#175FA8" shape-rendering="crispEdges"/>
<rect x="657.11" y="157" width="56.74" height="33.52" fill="#DBE7F7" shape-rendering="crispEdges"/>
<rect x="713.55" y="157" width="56.74" height="33.52" fill="#DAE7F7" shape-rendering="crispEdges"/>
<rect x="544.23" y="190.22" width="56.74" height="33.52" fill="#145AA4" shape-rendering="crispEdges"/>
<rect x="600.67" y="190.22" width="56.74" height="33.52" fill="#145AA4" shape-rendering="crispEdges"/>
<rect x="657.11" y="190.22" width="56.74" height="33.52" fill="#E8EFFC" shape-rendering="crispEdges"/>
<rect x="713.55" y="190.22" width="56.74" height="33.52" fill="#CDDFF2" shape-rendering="crispEdges"/>
<rect x="544.23" y="223.44" width="56.74" height="33.52" fill="#145AA4" shape-rendering="crispEdges"/>
<rect x="600.67" y="223.44" width="56.74" height="33.52" fill="#145AA4" shape-rendering="crispEdges"/>
<rect x="657.11" y="223.44" width="56.74" height="33.52" fill="#DAE7F7" shape-rendering="crispEdges"/>
<rect x="713.55" y="223.44" width="56.74" height="33.52" fill="#DFEAF9" shape-rendering="crispEdges"/>
<rect x="544.23" y="256.66" width="56.74" height="33.52" fill="#2676B7" shape-rendering="crispEdges"/>
<rect x="600.67" y="256.66" width="56.74" height="33.52" fill="#0B4A98" shape-rendering="crispEdges"/>
<rect x="657.11" y="256.66" width="56.74" height="33.52" fill="#D9E6F6" shape-rendering="crispEdges"/>
<rect x="713.55" y="256.66" width="56.74" height="33.52" fill="#DFEAF9" shape-rendering="crispEdges"/>
<rect x="544.23" y="289.88" width="56.74" height="33.52" fill="#1A65AC" shape-rendering="crispEdges"/>
<rect x="600.67" y="289.88" width="56.74" height="33.52" fill="#0E509C" shape-rendering="crispEdges"/>
<rect x="657.11" y="289.88" width="56.74" height="33.52" fill="#E5EDFB" shape-rendering="crispEdges"/>
<rect x="713.55" y="289.88" width="56.74" height="33.52" fill="#D1E2F3" shape-rendering="crispEdges"/>
<rect x="544.23" y="330.8" width="56.74" height="33.52" fill="#DFEAF9" shape-rendering="crispEdges"/>
<rect x="600.67" y="330.8" width="56.74" height="33.52" fill="#DFEAF9" shape-rendering="crispEdges"/>
<rect x="657.11" y="330.8" width="56.74" height="33.52" fill="#1155A0" shape-rendering="crispEdges"/>
<rect x="713.55" y="330.8" width="56.74" height="33.52" fill="#1257A2" shape-rendering="crispEdges"/>
<rect x="544.23" y="364.02" width="56.74" height="33.52" fill="#DFEAF9" shape-rendering="crispEdges"/>
<rect x="600.67" y="364.02" width="56.74" height="33.52" fill="#DFEAF9" shape-rendering="crispEdges"/>
<rect x="657.11" y="364.02" width="56.74" height="33.52" fill="#10529E" shape-rendering="crispEdges"/>
<rect x="713.55" y="364.02" width="56.74" height="33.52" fill="#175FA8" shape-rendering="crispEdges"/>
<rect x="544.23" y="397.24" width="56.74" height="33.52" fill="#DFEAF9" shape-rendering="crispEdges"/>
<rect x="600.67" y="397.24" width="56.74" height="33.52" fill="#DFEAF9" shape-rendering="crispEdges"/>
<rect x="657.11" y="397.24" width="56.74" height="33.52" fill="#0E509C" shape-rendering="crispEdges"/>
<rect x="713.55" y="397.24" width="56.74" height="33.52" fill="#1C67AE" shape-rendering="crispEdges"/>
<rect x="544.23" y="430.46" width="56.74" height="33.52" fill="#DFEAF9" shape-rendering="crispEdges"/>
<rect x="600.67" y="430.46" width="56.74" height="33.52" fill="#DFEAF9" shape-rendering="crispEdges"/>
<rect x="657.11" y="430.46" width="56.74" height="33.52" fill="#175FA8" shape-rendering="crispEdges"/>
<rect x="713.55" y="430.46" width="56.74" height="33.52" fill="#1155A0" shape-rendering="crispEdges"/>
<rect x="544.23" y="463.68" width="56.74" height="33.52" fill="#DDE8F8" shape-rendering="crispEdges"/>
<rect x="600.67" y="463.68" width="56.74" height="33.52" fill="#DEE9F8" shape-rendering="crispEdges"/>
<rect x="657.11" y="463.68" width="56.74" height="33.52" fill="#1155A0" shape-rendering="crispEdges"/>
<rect x="713.55" y="463.68" width="56.74" height="33.52" fill="#165DA6" shape-rendering="crispEdges"/>
<rect x="544.23" y="496.9" width="56.74" height="33.52" fill="#D6E5F5" shape-rendering="crispEdges"/>
<rect x="600.67" y="496.9" width="56.74" height="33.52" fill="#E0EAF9" shape-rendering="crispEdges"/>
<rect x="657.11" y="496.9" width="56.74" height="33.52" fill="#145AA4" shape-rendering="crispEdges"/>
<rect x="713.55" y="496.9" width="56.74" height="33.52" fill="#1155A0" shape-rendering="crispEdges"/>
<rect x="544.23" y="530.12" width="56.74" height="33.52" fill="#DEE9F8" shape-rendering="crispEdges"/>
<rect x="600.67" y="530.12" width="56.74" height="33.52" fill="#DBE7F7" shape-rendering="crispEdges"/>
<rect x="657.11" y="530.12" width="56.74" height="33.52" fill="#1155A0" shape-rendering="crispEdges"/>
<rect x="713.55" y="530.12" width="56.74" height="33.52" fill="#175FA8" shape-rendering="crispEdges"/>
<rect x="544.23" y="563.34" width="56.74" height="33.52" fill="#DFEAF9" shape-rendering="crispEdges"/>
<rect x="600.67" y="563.34" width="56.74" height="33.52" fill="#DEE9F8" shape-rendering="crispEdges"/>
<rect x="657.11" y="563.34" width="56.74" height="33.52" fill="#0C4D9A" shape-rendering="crispEdges"/>
<rect x="713.55" y="563.34" width="56.74" height="33.52" fill="#206FB4" shape-rendering="crispEdges"/>
<rect x="544.23" y="596.56" width="56.74" height="33.52" fill="#DEE9F8" shape-rendering="crispEdges"/>
<rect x="600.67" y="596.56" width="56.74" height="33.52" fill="#DDE8F8" shape-rendering="crispEdges"/>
<rect x="657.11" y="596.56" width="56.74" height="33.52" fill="#1155A0" shape-rendering="crispEdges"/>
<rect x="713.55" y="596.56" width="56.74" height="33.52" fill="#175FA8" shape-rendering="crispEdges"/>
<rect x="544.23" y="629.78" width="56.74" height="33.52" fill="#D6E5F5" shape-rendering="crispEdges"/>
<rect x="600.67" y="629.78" width="56.74" height="33.52" fill="#E0EAF9" shape-rendering="crispEdges"/>
<rect x="657.11" y="629.78" width="56.74" height="33.52" fill="#10529E" shape-rendering="crispEdges"/>
<rect x="713.55" y="629.78" width="56.74" height="33.52" fill="#1A65AC" shape-rendering="crispEdges"/>
<rect x="544.23" y="663" width="56.74" height="33.52" fill="#E0EAF9" shape-rendering="crispEdges"/>
<rect x="600.67" y="663" width="56.74" height="33.52" fill="#DBE7F7" shape-rendering="crispEdges"/>
<rect x="657.11" y="663" width="56.74" height="33.52" fill="#10529E" shape-rendering="crispEdges"/>
<rect x="713.55" y="663" width="56.74" height="33.52" fill="#1962AA" shape-rendering="crispEdges"/>
<rect x="544.23" y="696.22" width="56.74" height="33.22" fill="#DEE9F8" shape-rendering="crispEdges"/>
<rect x="600.67" y="696.22" width="56.74" height="33.22" fill="#DEE9F8" shape-rendering="crispEdges"/>
<rect x="657.11" y="696.22" width="56.74" height="33.22" fill="#1C67AE" shape-rendering="crispEdges"/>
<rect x="713.55" y="696.22" width="56.74" height="33.22" fill="#0E509C" shape-rendering="crispEdges"/>
<rect x="778.5" y="158" width="260.6" height="166" fill="#82D5AF" />
<rect x="778.5" y="330.8" width="260.6" height="397.6" fill="#FFA3AC" />
<text x="781.7" y="180.5" font-size="23.65" >AL583785.1</text>
<text x="781.7" y="213.72" font-size="23.65" >FLI1−AS1</text>
<text x="781.7" y="246.94" font-size="23.65" >HOXA−AS2</text>
<text x="781.7" y="280.16" font-size="23.65" >LETR1</text>
<text x="781.7" y="313.38" font-size="23.65" >HOXD−AS1</text>
<text x="781.7" y="354.3" font-size="23.65" >RP11−13J10.1</text>
<text x="781.7" y="387.52" font-size="23.65" >ST8SIA6−AS1</text>
<text x="781.7" y="420.74" font-size="23.65" >CATG00000099244.1</text>
<text x="781.7" y="453.96" font-size="23.65" >MIR143HG</text>
<text x="781.7" y="487.18" font-size="23.65" >CATG00000012735.1</text>
<text x="781.7" y="520.4" font-size="23.65" >AC007879.7</text>
<text x="781.7" y="553.62" font-size="23.65" >LINC00973</text>
<text x="781.7" y="586.84" font-size="23.65" >MIR210HG</text>
<text x="781.7" y="620.06" font-size="23.65" >LINC00702</text>
<text x="781.7" y="653.28" font-size="23.65" >LINC01013</text>
<text x="781.7" y="686.5" font-size="23.65" >CTD−2587H24.5</text>
<text x="781.7" y="719.72" font-size="23.65" >RP11−463O9.5</text>
<rect x="1062.4" y="156.9" width="15.9" height="239.6" fill="url(#cbb)" />
<text x="1085.4" y="174.6" font-size="15.6" >1</text>
<text x="1085.4" y="231.6" font-size="15.6" >0.5</text>
<text x="1085.4" y="288.6" font-size="15.6" >0</text>
<text x="1085.4" y="345.6" font-size="15.6" >−0.5</text>
<text x="1085.4" y="402.4" font-size="15.6" >−1</text>
<text x="1128.4" y="23" font-size="29" font-weight="bold" >c</text>
<text x="1258.4" y="48.3" font-size="23.5" text-anchor="middle" >CAGE-Seq</text>
<line x1="1147.1" y1="56.6" x2="1369.5" y2="56.6" stroke="#000" stroke-width="2.4" stroke-linecap="butt" />
<text transform="translate(1185.2 148.7) rotate(-90)" font-size="25.6" textLength="82.03" lengthAdjust="spacingAndGlyphs" >LEC R1</text>
<text transform="translate(1241.8 148.7) rotate(-90)" font-size="25.6" textLength="82.03" lengthAdjust="spacingAndGlyphs" >LEC R2</text>
<text transform="translate(1298.1 149.7) rotate(-90)" font-size="25.6" textLength="84.62" lengthAdjust="spacingAndGlyphs" >BEC R1</text>
<text transform="translate(1356.8 149.7) rotate(-90)" font-size="25.6" textLength="84.62" lengthAdjust="spacingAndGlyphs" >BEC R2</text>
<rect x="1145.88" y="157" width="56.74" height="33.52" fill="#1257A2" shape-rendering="crispEdges"/>
<rect x="1202.32" y="157" width="56.74" height="33.52" fill="#145AA4" shape-rendering="crispEdges"/>
<rect x="1258.76" y="157" width="56.74" height="33.52" fill="#DEE9F8" shape-rendering="crispEdges"/>
<rect x="1315.2" y="157" width="56.74" height="33.52" fill="#DEE9F8" shape-rendering="crispEdges"/>
<rect x="1145.88" y="190.22" width="56.74" height="33.52" fill="#1962AA" shape-rendering="crispEdges"/>
<rect x="1202.32" y="190.22" width="56.74" height="33.52" fill="#10529E" shape-rendering="crispEdges"/>
<rect x="1258.76" y="190.22" width="56.74" height="33.52" fill="#DBE7F7" shape-rendering="crispEdges"/>
<rect x="1315.2" y="190.22" width="56.74" height="33.52" fill="#DEE9F8" shape-rendering="crispEdges"/>
<rect x="1145.88" y="223.44" width="56.74" height="33.52" fill="#0C4D9A" shape-rendering="crispEdges"/>
<rect x="1202.32" y="223.44" width="56.74" height="33.52" fill="#1D6AB0" shape-rendering="crispEdges"/>
<rect x="1258.76" y="223.44" width="56.74" height="33.52" fill="#DBE7F7" shape-rendering="crispEdges"/>
<rect x="1315.2" y="223.44" width="56.74" height="33.52" fill="#DEE9F8" shape-rendering="crispEdges"/>
<rect x="1145.88" y="256.66" width="56.74" height="33.52" fill="#0C4D9A" shape-rendering="crispEdges"/>
<rect x="1202.32" y="256.66" width="56.74" height="33.52" fill="#2676B7" shape-rendering="crispEdges"/>
<rect x="1258.76" y="256.66" width="56.74" height="33.52" fill="#E5EDFB" shape-rendering="crispEdges"/>
<rect x="1315.2" y="256.66" width="56.74" height="33.52" fill="#D1E2F3" shape-rendering="crispEdges"/>
<rect x="1145.88" y="289.88" width="56.74" height="33.52" fill="#0C4D9A" shape-rendering="crispEdges"/>
<rect x="1202.32" y="289.88" width="56.74" height="33.52" fill="#2E7EBB" shape-rendering="crispEdges"/>
<rect x="1258.76" y="289.88" width="56.74" height="33.52" fill="#CDDFF2" shape-rendering="crispEdges"/>
<rect x="1315.2" y="289.88" width="56.74" height="33.52" fill="#DEE9F8" shape-rendering="crispEdges"/>
<rect x="1145.88" y="330.8" width="56.74" height="33.52" fill="#DFEAF9" shape-rendering="crispEdges"/>
<rect x="1202.32" y="330.8" width="56.74" height="33.52" fill="#DFEAF9" shape-rendering="crispEdges"/>
<rect x="1258.76" y="330.8" width="56.74" height="33.52" fill="#10529E" shape-rendering="crispEdges"/>
<rect x="1315.2" y="330.8" width="56.74" height="33.52" fill="#1962AA" shape-rendering="crispEdges"/>
<rect x="1145.88" y="364.02" width="56.74" height="33.52" fill="#DFEAF9" shape-rendering="crispEdges"/>
<rect x="1202.32" y="364.02" width="56.74" height="33.52" fill="#DFEAF9" shape-rendering="crispEdges"/>
<rect x="1258.76" y="364.02" width="56.74" height="33.52" fill="#0E509C" shape-rendering="crispEdges"/>
<rect x="1315.2" y="364.02" width="56.74" height="33.52" fill="#1C67AE" shape-rendering="crispEdges"/>
<rect x="1145.88" y="397.24" width="56.74" height="33.52" fill="#DFEAF9" shape-rendering="crispEdges"/>
<rect x="1202.32" y="397.24" width="56.74" height="33.52" fill="#DFEAF9" shape-rendering="crispEdges"/>
<rect x="1258.76" y="397.24" width="56.74" height="33.52" fill="#165DA6" shape-rendering="crispEdges"/>
<rect x="1315.2" y="397.24" width="56.74" height="33.52" fill="#1155A0" shape-rendering="crispEdges"/>
<rect x="1145.88" y="430.46" width="56.74" height="33.52" fill="#D9E6F6" shape-rendering="crispEdges"/>
<rect x="1202.32" y="430.46" width="56.74" height="33.52" fill="#DEE9F8" shape-rendering="crispEdges"/>
<rect x="1258.76" y="430.46" width="56.74" height="33.52" fill="#175FA8" shape-rendering="crispEdges"/>
<rect x="1315.2" y="430.46" width="56.74" height="33.52" fill="#0E509C" shape-rendering="crispEdges"/>
<rect x="1145.88" y="463.68" width="56.74" height="33.52" fill="#DBE7F7" shape-rendering="crispEdges"/>
<rect x="1202.32" y="463.68" width="56.74" height="33.52" fill="#DEE9F8" shape-rendering="crispEdges"/>
<rect x="1258.76" y="463.68" width="56.74" height="33.52" fill="#1257A2" shape-rendering="crispEdges"/>
<rect x="1315.2" y="463.68" width="56.74" height="33.52" fill="#1257A2" shape-rendering="crispEdges"/>
<rect x="1145.88" y="496.9" width="56.74" height="33.52" fill="#DEE9F8" shape-rendering="crispEdges"/>
<rect x="1202.32" y="496.9" width="56.74" height="33.52" fill="#D4E3F4" shape-rendering="crispEdges"/>
<rect x="1258.76" y="496.9" width="56.74" height="33.52" fill="#0C4D9A" shape-rendering="crispEdges"/>
<rect x="1315.2" y="496.9" width="56.74" height="33.52" fill="#2272B5" shape-rendering="crispEdges"/>
<rect x="1145.88" y="530.12" width="56.74" height="33.52" fill="#D9E6F6" shape-rendering="crispEdges"/>
<rect x="1202.32" y="530.12" width="56.74" height="33.52" fill="#DEE9F8" shape-rendering="crispEdges"/>
<rect x="1258.76" y="530.12" width="56.74" height="33.52" fill="#1155A0" shape-rendering="crispEdges"/>
<rect x="1315.2" y="530.12" width="56.74" height="33.52" fill="#175FA8" shape-rendering="crispEdges"/>
<rect x="1145.88" y="563.34" width="56.74" height="33.52" fill="#DBE7F7" shape-rendering="crispEdges"/>
<rect x="1202.32" y="563.34" width="56.74" height="33.52" fill="#DDE8F8" shape-rendering="crispEdges"/>
<rect x="1258.76" y="563.34" width="56.74" height="33.52" fill="#1257A2" shape-rendering="crispEdges"/>
<rect x="1315.2" y="563.34" width="56.74" height="33.52" fill="#145AA4" shape-rendering="crispEdges"/>
<rect x="1145.88" y="596.56" width="56.74" height="33.52" fill="#E0EAF9" shape-rendering="crispEdges"/>
<rect x="1202.32" y="596.56" width="56.74" height="33.52" fill="#D9E6F6" shape-rendering="crispEdges"/>
<rect x="1258.76" y="596.56" width="56.74" height="33.52" fill="#1257A2" shape-rendering="crispEdges"/>
<rect x="1315.2" y="596.56" width="56.74" height="33.52" fill="#145AA4" shape-rendering="crispEdges"/>
<rect x="1145.88" y="629.78" width="56.74" height="33.52" fill="#CDDFF2" shape-rendering="crispEdges"/>
<rect x="1202.32" y="629.78" width="56.74" height="33.52" fill="#E8EFFC" shape-rendering="crispEdges"/>
<rect x="1258.76" y="629.78" width="56.74" height="33.52" fill="#0E509C" shape-rendering="crispEdges"/>
<rect x="1315.2" y="629.78" width="56.74" height="33.52" fill="#1A65AC" shape-rendering="crispEdges"/>
<rect x="1145.88" y="663" width="56.74" height="33.52" fill="#DEE9F8" shape-rendering="crispEdges"/>
<rect x="1202.32" y="663" width="56.74" height="33.52" fill="#DEE9F8" shape-rendering="crispEdges"/>
<rect x="1258.76" y="663" width="56.74" height="33.52" fill="#1962AA" shape-rendering="crispEdges"/>
<rect x="1315.2" y="663" width="56.74" height="33.52" fill="#1155A0" shape-rendering="crispEdges"/>
<rect x="1145.88" y="696.22" width="56.74" height="33.22" fill="#DBE7F7" shape-rendering="crispEdges"/>
<rect x="1202.32" y="696.22" width="56.74" height="33.22" fill="#DEE9F8" shape-rendering="crispEdges"/>
<rect x="1258.76" y="696.22" width="56.74" height="33.22" fill="#10529E" shape-rendering="crispEdges"/>
<rect x="1315.2" y="696.22" width="56.74" height="33.22" fill="#175FA8" shape-rendering="crispEdges"/>
<rect x="1377.9" y="158" width="260.6" height="166" fill="#82D5AF" />
<rect x="1377.9" y="330.8" width="260.6" height="397.6" fill="#FFA3AC" />
<text x="1379.1" y="180.5" font-size="23.65" >AL583785.1</text>
<text x="1379.1" y="213.72" font-size="23.65" >HOXA−AS2</text>
<text x="1379.1" y="246.94" font-size="23.65" >FLI1−AS1</text>
<text x="1379.1" y="280.16" font-size="23.65" >HOXD−AS1</text>
<text x="1379.1" y="313.38" font-size="23.65" >LETR1</text>
<text x="1379.1" y="354.3" font-size="23.65" >RP11−13J10.1</text>
<text x="1379.1" y="387.52" font-size="23.65" >ST8SIA6−AS1</text>
<text x="1379.1" y="420.74" font-size="23.65" >CATG00000099244.1</text>
<text x="1379.1" y="453.96" font-size="23.65" >MIR143HG</text>
<text x="1379.1" y="487.18" font-size="23.65" >CATG00000012735.1</text>
<text x="1379.1" y="520.4" font-size="23.65" >AC007879.7</text>
<text x="1379.1" y="553.62" font-size="23.65" >MIR210HG</text>
<text x="1379.1" y="586.84" font-size="23.65" >LINC00973</text>
<text x="1379.1" y="620.06" font-size="23.65" >LINC01013</text>
<text x="1379.1" y="653.28" font-size="23.65" >LINC00702</text>
<text x="1379.1" y="686.5" font-size="23.65" >RP11−463O9.5</text>
<text x="1379.1" y="719.72" font-size="23.65" >CTD−2587H24.5</text>
<rect x="1665.3" y="156.9" width="15.9" height="239.6" fill="url(#cbc)" />
<text x="1688.3" y="184.4" font-size="15.6" >1</text>
<text x="1688.3" y="239.2" font-size="15.6" >0.5</text>
<text x="1688.3" y="293.8" font-size="15.6" >0</text>
<text x="1688.3" y="348.4" font-size="15.6" >−0.5</text>
<text x="1688.3" y="402.8" font-size="15.6" >−1</text>
<text x="0.5" y="764.5" font-size="29" font-weight="bold" >d</text>
<rect x="20" y="820" width="39" height="419.8" fill="#82D5AF" />
<text transform="translate(50.2 1029.3) rotate(-90)" font-size="27.5" text-anchor="middle" >LEC lncRNAs</text>
<rect x="258" y="773" width="298.3" height="42.2" fill="none" stroke="#000" stroke-width="2" />
<text x="407" y="802.5" font-size="27.9" text-anchor="middle" >Neonatal (3 Donors)</text>
<rect x="958.2" y="773" width="261.1" height="42.2" fill="none" stroke="#000" stroke-width="2" />
<text x="1089.5" y="802.5" font-size="27.9" text-anchor="middle" >Adult (5 Donors)</text>
<text x="247.3" y="848.4" font-size="27" text-anchor="middle" >AL583785.1</text>
<line x1="237.8" y1="913.14" x2="335.8" y2="1152.68" stroke="#000" stroke-width="2.1" stroke-linecap="butt" />
<line x1="237.8" y1="1014.88" x2="335.8" y2="1168.63" stroke="#000" stroke-width="2.1" stroke-linecap="butt" />
<line x1="237.8" y1="1050.18" x2="335.8" y2="1165.02" stroke="#000" stroke-width="2.1" stroke-linecap="butt" />
<line x1="173.5" y1="869.8" x2="173.5" y2="1176" stroke="#000" stroke-width="2.5" stroke-linecap="butt" />
<line x1="164.2" y1="1174.7" x2="401" y2="1174.7" stroke="#000" stroke-width="2.6" stroke-linecap="butt" />
<text x="158.9" y="1183.8" font-size="23" text-anchor="end" >0</text>
<line x1="164.2" y1="1136.74" x2="173.5" y2="1136.74" stroke="#000" stroke-width="2.3" stroke-linecap="butt" />
<text x="158.9" y="1145.84" font-size="23" text-anchor="end" >10</text>
<line x1="164.2" y1="1098.78" x2="173.5" y2="1098.78" stroke="#000" stroke-width="2.3" stroke-linecap="butt" />
<text x="158.9" y="1107.88" font-size="23" text-anchor="end" >20</text>
<line x1="164.2" y1="1060.81" x2="173.5" y2="1060.81" stroke="#000" stroke-width="2.3" stroke-linecap="butt" />
<text x="158.9" y="1069.91" font-size="23" text-anchor="end" >30</text>
<line x1="164.2" y1="1022.85" x2="173.5" y2="1022.85" stroke="#000" stroke-width="2.3" stroke-linecap="butt" />
<text x="158.9" y="1031.95" font-size="23" text-anchor="end" >40</text>
<line x1="164.2" y1="984.89" x2="173.5" y2="984.89" stroke="#000" stroke-width="2.3" stroke-linecap="butt" />
<text x="158.9" y="993.99" font-size="23" text-anchor="end" >50</text>
<line x1="164.2" y1="946.92" x2="173.5" y2="946.92" stroke="#000" stroke-width="2.3" stroke-linecap="butt" />
<text x="158.9" y="956.02" font-size="23" text-anchor="end" >60</text>
<line x1="164.2" y1="908.96" x2="173.5" y2="908.96" stroke="#000" stroke-width="2.3" stroke-linecap="butt" />
<text x="158.9" y="918.06" font-size="23" text-anchor="end" >70</text>
<line x1="164.2" y1="871" x2="173.5" y2="871" stroke="#000" stroke-width="2.3" stroke-linecap="butt" />
<text x="158.9" y="880.1" font-size="23" text-anchor="end" >80</text>
<line x1="237.8" y1="1174.7" x2="237.8" y2="1184.5" stroke="#000" stroke-width="2.3" stroke-linecap="butt" />
<text transform="translate(245 1201.2) rotate(-45)" font-size="23.6" text-anchor="end" >LEC</text>
<line x1="335.8" y1="1174.7" x2="335.8" y2="1184.5" stroke="#000" stroke-width="2.3" stroke-linecap="butt" />
<text transform="translate(343 1201.2) rotate(-45)" font-size="23.6" text-anchor="end" >BEC</text>
<text transform="translate(120 1017.35) rotate(-90)" font-size="23" text-anchor="middle" >FC vs BEC</text>
<circle cx="237.8" cy="913.14" r="5.3" fill="#0AAB5F" />
<circle cx="237.8" cy="1014.88" r="5.3" fill="#0AAB5F" />
<circle cx="237.8" cy="1050.18" r="5.3" fill="#0AAB5F" />
<circle cx="335.8" cy="1152.68" r="5.3" fill="#FB4B5E" />
<circle cx="335.8" cy="1165.02" r="5.3" fill="#FB4B5E" />
<circle cx="335.8" cy="1172.42" r="5.3" fill="#FB4B5E" />
<line x1="237.8" y1="897.8" x2="336.3" y2="897.8" stroke="#000" stroke-width="2" stroke-linecap="butt" />
<text x="287.1" y="902.2" font-size="24.5" text-anchor="middle" >*</text>
<text x="569.5" y="848.4" font-size="27" text-anchor="middle" >LETR1</text>
<line x1="552.2" y1="922.63" x2="650.2" y2="1105.05" stroke="#000" stroke-width="2.1" stroke-linecap="butt" />
<line x1="552.2" y1="1061.07" x2="650.2" y2="1125.25" stroke="#000" stroke-width="2.1" stroke-linecap="butt" />
<line x1="552.2" y1="1099.79" x2="650.2" y2="1143.32" stroke="#000" stroke-width="2.1" stroke-linecap="butt" />
<line x1="487.9" y1="869.8" x2="487.9" y2="1176" stroke="#000" stroke-width="2.5" stroke-linecap="butt" />
<line x1="478.6" y1="1174.7" x2="715.4" y2="1174.7" stroke="#000" stroke-width="2.6" stroke-linecap="butt" />
<text x="473.3" y="1183.8" font-size="23" text-anchor="end" >0</text>
<line x1="478.6" y1="1124.08" x2="487.9" y2="1124.08" stroke="#000" stroke-width="2.3" stroke-linecap="butt" />
<text x="473.3" y="1133.18" font-size="23" text-anchor="end" >1</text>
<line x1="478.6" y1="1073.47" x2="487.9" y2="1073.47" stroke="#000" stroke-width="2.3" stroke-linecap="butt" />
<text x="473.3" y="1082.57" font-size="23" text-anchor="end" >2</text>
<line x1="478.6" y1="1022.85" x2="487.9" y2="1022.85" stroke="#000" stroke-width="2.3" stroke-linecap="butt" />
<text x="473.3" y="1031.95" font-size="23" text-anchor="end" >3</text>
<line x1="478.6" y1="972.23" x2="487.9" y2="972.23" stroke="#000" stroke-width="2.3" stroke-linecap="butt" />
<text x="473.3" y="981.33" font-size="23" text-anchor="end" >4</text>
<line x1="478.6" y1="921.62" x2="487.9" y2="921.62" stroke="#000" stroke-width="2.3" stroke-linecap="butt" />
<text x="473.3" y="930.72" font-size="23" text-anchor="end" >5</text>
<line x1="478.6" y1="871" x2="487.9" y2="871" stroke="#000" stroke-width="2.3" stroke-linecap="butt" />
<text x="473.3" y="880.1" font-size="23" text-anchor="end" >6</text>
<line x1="552.2" y1="1174.7" x2="552.2" y2="1184.5" stroke="#000" stroke-width="2.3" stroke-linecap="butt" />
<text transform="translate(559.4 1201.2) rotate(-45)" font-size="23.6" text-anchor="end" >LEC</text>
<line x1="650.2" y1="1174.7" x2="650.2" y2="1184.5" stroke="#000" stroke-width="2.3" stroke-linecap="butt" />
<text transform="translate(657.4 1201.2) rotate(-45)" font-size="23.6" text-anchor="end" >BEC</text>
<text transform="translate(442.8 1017.35) rotate(-90)" font-size="23" text-anchor="middle" >FC vs BEC</text>
<circle cx="552.2" cy="922.63" r="5.3" fill="#0AAB5F" />
<circle cx="552.2" cy="1061.07" r="5.3" fill="#0AAB5F" />
<circle cx="552.2" cy="1099.79" r="5.3" fill="#0AAB5F" />
<circle cx="650.2" cy="1105.05" r="5.3" fill="#FB4B5E" />
<circle cx="650.2" cy="1125.25" r="5.3" fill="#FB4B5E" />
<circle cx="650.2" cy="1143.32" r="5.3" fill="#FB4B5E" />
<line x1="552.2" y1="909.3" x2="650.7" y2="909.3" stroke="#000" stroke-width="2" stroke-linecap="butt" />
<text x="601.5" y="913.7" font-size="24.5" text-anchor="middle" >*</text>
<text x="927.3" y="848.4" font-size="27" text-anchor="middle" >AL583785.1</text>
<line x1="920" y1="922.02" x2="1018" y2="1171.36" stroke="#000" stroke-width="2.1" stroke-linecap="butt" />
<line x1="920" y1="977.6" x2="1018" y2="1169.54" stroke="#000" stroke-width="2.1" stroke-linecap="butt" />
<line x1="920" y1="994.61" x2="1018" y2="1172.88" stroke="#000" stroke-width="2.1" stroke-linecap="butt" />
<line x1="920" y1="1047.15" x2="1018" y2="1174.09" stroke="#000" stroke-width="2.1" stroke-linecap="butt" />
<line x1="920" y1="1067.8" x2="1018" y2="1172.88" stroke="#000" stroke-width="2.1" stroke-linecap="butt" />
<line x1="855.7" y1="869.8" x2="855.7" y2="1176" stroke="#000" stroke-width="2.5" stroke-linecap="butt" />
<line x1="846.4" y1="1174.7" x2="1083.2" y2="1174.7" stroke="#000" stroke-width="2.6" stroke-linecap="butt" />
<text x="841.1" y="1183.8" font-size="23" text-anchor="end" >0</text>
<line x1="846.4" y1="1144.33" x2="855.7" y2="1144.33" stroke="#000" stroke-width="2.3" stroke-linecap="butt" />
<text x="841.1" y="1153.43" font-size="23" text-anchor="end" >10</text>
<line x1="846.4" y1="1113.96" x2="855.7" y2="1113.96" stroke="#000" stroke-width="2.3" stroke-linecap="butt" />
<text x="841.1" y="1123.06" font-size="23" text-anchor="end" >20</text>
<line x1="846.4" y1="1083.59" x2="855.7" y2="1083.59" stroke="#000" stroke-width="2.3" stroke-linecap="butt" />
<text x="841.1" y="1092.69" font-size="23" text-anchor="end" >30</text>
<line x1="846.4" y1="1053.22" x2="855.7" y2="1053.22" stroke="#000" stroke-width="2.3" stroke-linecap="butt" />
<text x="841.1" y="1062.32" font-size="23" text-anchor="end" >40</text>
<line x1="846.4" y1="1022.85" x2="855.7" y2="1022.85" stroke="#000" stroke-width="2.3" stroke-linecap="butt" />
<text x="841.1" y="1031.95" font-size="23" text-anchor="end" >50</text>
<line x1="846.4" y1="992.48" x2="855.7" y2="992.48" stroke="#000" stroke-width="2.3" stroke-linecap="butt" />
<text x="841.1" y="1001.58" font-size="23" text-anchor="end" >60</text>
<line x1="846.4" y1="962.11" x2="855.7" y2="962.11" stroke="#000" stroke-width="2.3" stroke-linecap="butt" />
<text x="841.1" y="971.21" font-size="23" text-anchor="end" >70</text>
<line x1="846.4" y1="931.74" x2="855.7" y2="931.74" stroke="#000" stroke-width="2.3" stroke-linecap="butt" />
<text x="841.1" y="940.84" font-size="23" text-anchor="end" >80</text>
<line x1="846.4" y1="901.37" x2="855.7" y2="901.37" stroke="#000" stroke-width="2.3" stroke-linecap="butt" />
<text x="841.1" y="910.47" font-size="23" text-anchor="end" >90</text>
<line x1="846.4" y1="871" x2="855.7" y2="871" stroke="#000" stroke-width="2.3" stroke-linecap="butt" />
<text x="841.1" y="880.1" font-size="23" text-anchor="end" >100</text>
<line x1="920" y1="1174.7" x2="920" y2="1184.5" stroke="#000" stroke-width="2.3" stroke-linecap="butt" />
<text transform="translate(927.2 1201.2) rotate(-45)" font-size="23.6" text-anchor="end" >LEC</text>
<line x1="1018" y1="1174.7" x2="1018" y2="1184.5" stroke="#000" stroke-width="2.3" stroke-linecap="butt" />
<text transform="translate(1025.2 1201.2) rotate(-45)" font-size="23.6" text-anchor="end" >BEC</text>
<text transform="translate(797 1017.35) rotate(-90)" font-size="23" text-anchor="middle" >FC vs BEC</text>
<circle cx="920" cy="922.02" r="5.3" fill="#0AAB5F" />
<circle cx="920" cy="977.6" r="5.3" fill="#0AAB5F" />
<circle cx="920" cy="994.61" r="5.3" fill="#0AAB5F" />
<circle cx="920" cy="1047.15" r="5.3" fill="#0AAB5F" />
<circle cx="920" cy="1067.8" r="5.3" fill="#0AAB5F" />
<circle cx="1018" cy="1169.54" r="5.3" fill="#FB4B5E" />
<circle cx="1018" cy="1171.36" r="5.3" fill="#FB4B5E" />
<circle cx="1018" cy="1172.88" r="5.3" fill="#FB4B5E" />
<circle cx="1018" cy="1174.09" r="5.3" fill="#FB4B5E" />
<circle cx="1018" cy="1175.31" r="5.3" fill="#FB4B5E" />
<line x1="920" y1="909.3" x2="1018.5" y2="909.3" stroke="#000" stroke-width="2" stroke-linecap="butt" />
<text x="969.3" y="913.7" font-size="24.5" text-anchor="middle" >***</text>
<text x="1252" y="848.4" font-size="27" text-anchor="middle" >LETR1</text>
<line x1="1237.5" y1="924.34" x2="1335.5" y2="1159.52" stroke="#000" stroke-width="2.1" stroke-linecap="butt" />
<line x1="1237.5" y1="1017.35" x2="1335.5" y2="1138.83" stroke="#000" stroke-width="2.1" stroke-linecap="butt" />
<line x1="1237.5" y1="1096.12" x2="1335.5" y2="1159.52" stroke="#000" stroke-width="2.1" stroke-linecap="butt" />
<line x1="1237.5" y1="1121.74" x2="1335.5" y2="1169.01" stroke="#000" stroke-width="2.1" stroke-linecap="butt" />
<line x1="1237.5" y1="1138.45" x2="1335.5" y2="1158.76" stroke="#000" stroke-width="2.1" stroke-linecap="butt" />
<line x1="1173.2" y1="869.8" x2="1173.2" y2="1176" stroke="#000" stroke-width="2.5" stroke-linecap="butt" />
<line x1="1163.9" y1="1174.7" x2="1400.7" y2="1174.7" stroke="#000" stroke-width="2.6" stroke-linecap="butt" />
<text x="1158.6" y="1183.8" font-size="23" text-anchor="end" >0</text>
<line x1="1163.9" y1="1136.74" x2="1173.2" y2="1136.74" stroke="#000" stroke-width="2.3" stroke-linecap="butt" />
<text x="1158.6" y="1145.84" font-size="23" text-anchor="end" >2</text>
<line x1="1163.9" y1="1098.78" x2="1173.2" y2="1098.78" stroke="#000" stroke-width="2.3" stroke-linecap="butt" />
<text x="1158.6" y="1107.88" font-size="23" text-anchor="end" >4</text>
<line x1="1163.9" y1="1060.81" x2="1173.2" y2="1060.81" stroke="#000" stroke-width="2.3" stroke-linecap="butt" />
<text x="1158.6" y="1069.91" font-size="23" text-anchor="end" >6</text>
<line x1="1163.9" y1="1022.85" x2="1173.2" y2="1022.85" stroke="#000" stroke-width="2.3" stroke-linecap="butt" />
<text x="1158.6" y="1031.95" font-size="23" text-anchor="end" >8</text>
<line x1="1163.9" y1="984.89" x2="1173.2" y2="984.89" stroke="#000" stroke-width="2.3" stroke-linecap="butt" />
<text x="1158.6" y="993.99" font-size="23" text-anchor="end" >10</text>
<line x1="1163.9" y1="946.92" x2="1173.2" y2="946.92" stroke="#000" stroke-width="2.3" stroke-linecap="butt" />
<text x="1158.6" y="956.02" font-size="23" text-anchor="end" >12</text>
<line x1="1163.9" y1="908.96" x2="1173.2" y2="908.96" stroke="#000" stroke-width="2.3" stroke-linecap="butt" />
<text x="1158.6" y="918.06" font-size="23" text-anchor="end" >14</text>
<line x1="1163.9" y1="871" x2="1173.2" y2="871" stroke="#000" stroke-width="2.3" stroke-linecap="butt" />
<text x="1158.6" y="880.1" font-size="23" text-anchor="end" >16</text>
<line x1="1237.5" y1="1174.7" x2="1237.5" y2="1184.5" stroke="#000" stroke-width="2.3" stroke-linecap="butt" />
<text transform="translate(1244.7 1201.2) rotate(-45)" font-size="23.6" text-anchor="end" >LEC</text>
<line x1="1335.5" y1="1174.7" x2="1335.5" y2="1184.5" stroke="#000" stroke-width="2.3" stroke-linecap="butt" />
<text transform="translate(1342.7 1201.2) rotate(-45)" font-size="23.6" text-anchor="end" >BEC</text>
<text transform="translate(1126 1017.35) rotate(-90)" font-size="23" text-anchor="middle" >FC vs BEC</text>
<circle cx="1237.5" cy="924.34" r="5.3" fill="#0AAB5F" />
<circle cx="1237.5" cy="1017.35" r="5.3" fill="#0AAB5F" />
<circle cx="1237.5" cy="1096.12" r="5.3" fill="#0AAB5F" />
<circle cx="1237.5" cy="1121.74" r="5.3" fill="#0AAB5F" />
<circle cx="1237.5" cy="1138.45" r="5.3" fill="#0AAB5F" />
<circle cx="1335.5" cy="1138.83" r="5.3" fill="#FB4B5E" />
<circle cx="1335.5" cy="1158.76" r="5.3" fill="#FB4B5E" />
<circle cx="1335.5" cy="1161.79" r="5.3" fill="#FB4B5E" />
<circle cx="1335.5" cy="1168.44" r="5.3" fill="#FB4B5E" />
<circle cx="1335.5" cy="1170.52" r="5.3" fill="#FB4B5E" />
<line x1="1237.5" y1="909.5" x2="1336" y2="909.5" stroke="#000" stroke-width="2" stroke-linecap="butt" />
<text x="1286.8" y="913.9" font-size="24.5" text-anchor="middle" >*</text>
<text x="0.5" y="1274.3" font-size="29" font-weight="bold" >e</text>
<rect x="20" y="1334" width="39" height="419.8" fill="#FFA3AC" />
<text transform="translate(50.2 1546.5) rotate(-90)" font-size="27.5" text-anchor="middle" >BEC lncRNAs</text>
<rect x="258" y="1284.2" width="298.3" height="42.4" fill="none" stroke="#000" stroke-width="2" />
<text x="407" y="1314" font-size="27.9" text-anchor="middle" >Neonatal (3 Donors)</text>
<rect x="958.2" y="1284.2" width="261.1" height="42.4" fill="none" stroke="#000" stroke-width="2" />
<text x="1089.5" y="1314" font-size="27.9" text-anchor="middle" >Adult (5 Donors)</text>
<text x="252" y="1360.9" font-size="27" text-anchor="middle" >LINC00973</text>
<line x1="237.8" y1="1678.72" x2="335.8" y2="1432.03" stroke="#000" stroke-width="2.1" stroke-linecap="butt" />
<line x1="237.8" y1="1681.24" x2="335.8" y2="1615.53" stroke="#000" stroke-width="2.1" stroke-linecap="butt" />
<line x1="237.8" y1="1683.77" x2="335.8" y2="1620.08" stroke="#000" stroke-width="2.1" stroke-linecap="butt" />
<line x1="173.5" y1="1381.8" x2="173.5" y2="1687.6" stroke="#000" stroke-width="2.5" stroke-linecap="butt" />
<line x1="164.2" y1="1686.3" x2="401" y2="1686.3" stroke="#000" stroke-width="2.6" stroke-linecap="butt" />
<text x="158.9" y="1695.4" font-size="23" text-anchor="end" >0</text>
<line x1="164.2" y1="1635.75" x2="173.5" y2="1635.75" stroke="#000" stroke-width="2.3" stroke-linecap="butt" />
<text x="158.9" y="1644.85" font-size="23" text-anchor="end" >10</text>
<line x1="164.2" y1="1585.2" x2="173.5" y2="1585.2" stroke="#000" stroke-width="2.3" stroke-linecap="butt" />
<text x="158.9" y="1594.3" font-size="23" text-anchor="end" >20</text>
<line x1="164.2" y1="1534.65" x2="173.5" y2="1534.65" stroke="#000" stroke-width="2.3" stroke-linecap="butt" />
<text x="158.9" y="1543.75" font-size="23" text-anchor="end" >30</text>
<line x1="164.2" y1="1484.1" x2="173.5" y2="1484.1" stroke="#000" stroke-width="2.3" stroke-linecap="butt" />
<text x="158.9" y="1493.2" font-size="23" text-anchor="end" >40</text>
<line x1="164.2" y1="1433.55" x2="173.5" y2="1433.55" stroke="#000" stroke-width="2.3" stroke-linecap="butt" />
<text x="158.9" y="1442.65" font-size="23" text-anchor="end" >50</text>
<line x1="164.2" y1="1383" x2="173.5" y2="1383" stroke="#000" stroke-width="2.3" stroke-linecap="butt" />
<text x="158.9" y="1392.1" font-size="23" text-anchor="end" >60</text>
<line x1="237.8" y1="1686.3" x2="237.8" y2="1696.1" stroke="#000" stroke-width="2.3" stroke-linecap="butt" />
<text transform="translate(245 1712.8) rotate(-45)" font-size="23.6" text-anchor="end" >LEC</text>
<line x1="335.8" y1="1686.3" x2="335.8" y2="1696.1" stroke="#000" stroke-width="2.3" stroke-linecap="butt" />
<text transform="translate(343 1712.8) rotate(-45)" font-size="23.6" text-anchor="end" >BEC</text>
<text transform="translate(120 1529.15) rotate(-90)" font-size="23" text-anchor="middle" >FC vs LEC</text>
<circle cx="237.8" cy="1678.72" r="5.3" fill="#0AAB5F" />
<circle cx="237.8" cy="1681.24" r="5.3" fill="#0AAB5F" />
<circle cx="237.8" cy="1683.77" r="5.3" fill="#0AAB5F" />
<circle cx="335.8" cy="1432.03" r="5.3" fill="#FB4B5E" />
<circle cx="335.8" cy="1615.53" r="5.3" fill="#FB4B5E" />
<circle cx="335.8" cy="1620.08" r="5.3" fill="#FB4B5E" />
<line x1="237.8" y1="1419.1" x2="336.3" y2="1419.1" stroke="#000" stroke-width="2" stroke-linecap="butt" />
<text x="287.1" y="1423.5" font-size="24.5" text-anchor="middle" >**</text>
<text x="572" y="1360.9" font-size="27" text-anchor="middle" >LINC01013</text>
<line x1="552.8" y1="1672.4" x2="650.8" y2="1449.4" stroke="#000" stroke-width="2.1" stroke-linecap="butt" />
<line x1="552.8" y1="1688.32" x2="650.8" y2="1461.53" stroke="#000" stroke-width="2.1" stroke-linecap="butt" />
<line x1="552.8" y1="1689.08" x2="650.8" y2="1550.28" stroke="#000" stroke-width="2.1" stroke-linecap="butt" />
<line x1="488.5" y1="1386" x2="488.5" y2="1691.9" stroke="#000" stroke-width="2.5" stroke-linecap="butt" />
<line x1="479.2" y1="1690.6" x2="716" y2="1690.6" stroke="#000" stroke-width="2.6" stroke-linecap="butt" />
<text x="473.9" y="1699.7" font-size="23" text-anchor="end" >0</text>
<line x1="479.2" y1="1652.67" x2="488.5" y2="1652.67" stroke="#000" stroke-width="2.3" stroke-linecap="butt" />
<text x="473.9" y="1661.77" font-size="23" text-anchor="end" >5</text>
<line x1="479.2" y1="1614.75" x2="488.5" y2="1614.75" stroke="#000" stroke-width="2.3" stroke-linecap="butt" />
<text x="473.9" y="1623.85" font-size="23" text-anchor="end" >10</text>
<line x1="479.2" y1="1576.83" x2="488.5" y2="1576.83" stroke="#000" stroke-width="2.3" stroke-linecap="butt" />
<text x="473.9" y="1585.92" font-size="23" text-anchor="end" >15</text>
<line x1="479.2" y1="1538.9" x2="488.5" y2="1538.9" stroke="#000" stroke-width="2.3" stroke-linecap="butt" />
<text x="473.9" y="1548" font-size="23" text-anchor="end" >20</text>
<line x1="479.2" y1="1500.97" x2="488.5" y2="1500.97" stroke="#000" stroke-width="2.3" stroke-linecap="butt" />
<text x="473.9" y="1510.07" font-size="23" text-anchor="end" >25</text>
<line x1="479.2" y1="1463.05" x2="488.5" y2="1463.05" stroke="#000" stroke-width="2.3" stroke-linecap="butt" />
<text x="473.9" y="1472.15" font-size="23" text-anchor="end" >30</text>
<line x1="479.2" y1="1425.12" x2="488.5" y2="1425.12" stroke="#000" stroke-width="2.3" stroke-linecap="butt" />
<text x="473.9" y="1434.22" font-size="23" text-anchor="end" >35</text>
<line x1="479.2" y1="1387.2" x2="488.5" y2="1387.2" stroke="#000" stroke-width="2.3" stroke-linecap="butt" />
<text x="473.9" y="1396.3" font-size="23" text-anchor="end" >40</text>
<line x1="552.8" y1="1690.6" x2="552.8" y2="1700.4" stroke="#000" stroke-width="2.3" stroke-linecap="butt" />
<text transform="translate(560 1717.1) rotate(-45)" font-size="23.6" text-anchor="end" >LEC</text>
<line x1="650.8" y1="1690.6" x2="650.8" y2="1700.4" stroke="#000" stroke-width="2.3" stroke-linecap="butt" />
<text transform="translate(658 1717.1) rotate(-45)" font-size="23.6" text-anchor="end" >BEC</text>
<text transform="translate(442.8 1533.4) rotate(-90)" font-size="23" text-anchor="middle" >FC vs LEC</text>
<circle cx="552.8" cy="1672.4" r="5.3" fill="#0AAB5F" />
<circle cx="552.8" cy="1688.32" r="5.3" fill="#0AAB5F" />
<circle cx="552.8" cy="1689.08" r="5.3" fill="#0AAB5F" />
<circle cx="650.8" cy="1449.4" r="5.3" fill="#FB4B5E" />
<circle cx="650.8" cy="1461.53" r="5.3" fill="#FB4B5E" />
<circle cx="650.8" cy="1550.28" r="5.3" fill="#FB4B5E" />
<line x1="552.8" y1="1435.9" x2="651.3" y2="1435.9" stroke="#000" stroke-width="2" stroke-linecap="butt" />
<text x="602.1" y="1440.3" font-size="24.5" text-anchor="middle" >*</text>
<text x="932.5" y="1360.9" font-size="27" text-anchor="middle" >LINC00973</text>
<line x1="920" y1="1684.28" x2="1018" y2="1430.31" stroke="#000" stroke-width="2.1" stroke-linecap="butt" />
<line x1="920" y1="1684.68" x2="1018" y2="1501.35" stroke="#000" stroke-width="2.1" stroke-linecap="butt" />
<line x1="920" y1="1684.95" x2="1018" y2="1650.58" stroke="#000" stroke-width="2.1" stroke-linecap="butt" />
<line x1="920" y1="1685.22" x2="1018" y2="1655.3" stroke="#000" stroke-width="2.1" stroke-linecap="butt" />
<line x1="920" y1="1685.63" x2="1018" y2="1669.18" stroke="#000" stroke-width="2.1" stroke-linecap="butt" />
<line x1="855.7" y1="1381.8" x2="855.7" y2="1687.6" stroke="#000" stroke-width="2.5" stroke-linecap="butt" />
<line x1="846.4" y1="1686.3" x2="1083.2" y2="1686.3" stroke="#000" stroke-width="2.6" stroke-linecap="butt" />
<text x="841.1" y="1695.4" font-size="23" text-anchor="end" >0</text>
<line x1="846.4" y1="1652.6" x2="855.7" y2="1652.6" stroke="#000" stroke-width="2.3" stroke-linecap="butt" />
<text x="841.1" y="1661.7" font-size="23" text-anchor="end" >25</text>
<line x1="846.4" y1="1618.9" x2="855.7" y2="1618.9" stroke="#000" stroke-width="2.3" stroke-linecap="butt" />
<text x="841.1" y="1628" font-size="23" text-anchor="end" >50</text>
<line x1="846.4" y1="1585.2" x2="855.7" y2="1585.2" stroke="#000" stroke-width="2.3" stroke-linecap="butt" />
<text x="841.1" y="1594.3" font-size="23" text-anchor="end" >75</text>
<line x1="846.4" y1="1551.5" x2="855.7" y2="1551.5" stroke="#000" stroke-width="2.3" stroke-linecap="butt" />
<text x="841.1" y="1560.6" font-size="23" text-anchor="end" >100</text>
<line x1="846.4" y1="1517.8" x2="855.7" y2="1517.8" stroke="#000" stroke-width="2.3" stroke-linecap="butt" />
<text x="841.1" y="1526.9" font-size="23" text-anchor="end" >125</text>
<line x1="846.4" y1="1484.1" x2="855.7" y2="1484.1" stroke="#000" stroke-width="2.3" stroke-linecap="butt" />
<text x="841.1" y="1493.2" font-size="23" text-anchor="end" >150</text>
<line x1="846.4" y1="1450.4" x2="855.7" y2="1450.4" stroke="#000" stroke-width="2.3" stroke-linecap="butt" />
<text x="841.1" y="1459.5" font-size="23" text-anchor="end" >175</text>
<line x1="846.4" y1="1416.7" x2="855.7" y2="1416.7" stroke="#000" stroke-width="2.3" stroke-linecap="butt" />
<text x="841.1" y="1425.8" font-size="23" text-anchor="end" >200</text>
<line x1="846.4" y1="1383" x2="855.7" y2="1383" stroke="#000" stroke-width="2.3" stroke-linecap="butt" />
<text x="841.1" y="1392.1" font-size="23" text-anchor="end" >225</text>
<line x1="920" y1="1686.3" x2="920" y2="1696.1" stroke="#000" stroke-width="2.3" stroke-linecap="butt" />
<text transform="translate(927.2 1712.8) rotate(-45)" font-size="23.6" text-anchor="end" >LEC</text>
<line x1="1018" y1="1686.3" x2="1018" y2="1696.1" stroke="#000" stroke-width="2.3" stroke-linecap="butt" />
<text transform="translate(1025.2 1712.8) rotate(-45)" font-size="23.6" text-anchor="end" >BEC</text>
<text transform="translate(797 1529.15) rotate(-90)" font-size="23" text-anchor="middle" >FC vs LEC</text>
<circle cx="920" cy="1684.28" r="5.3" fill="#0AAB5F" />
<circle cx="920" cy="1684.68" r="5.3" fill="#0AAB5F" />
<circle cx="920" cy="1684.95" r="5.3" fill="#0AAB5F" />
<circle cx="920" cy="1685.22" r="5.3" fill="#0AAB5F" />
<circle cx="920" cy="1685.63" r="5.3" fill="#0AAB5F" />
<circle cx="1018" cy="1430.31" r="5.3" fill="#FB4B5E" />
<circle cx="1018" cy="1501.35" r="5.3" fill="#FB4B5E" />
<circle cx="1018" cy="1650.58" r="5.3" fill="#FB4B5E" />
<circle cx="1018" cy="1655.3" r="5.3" fill="#FB4B5E" />
<circle cx="1018" cy="1669.18" r="5.3" fill="#FB4B5E" />
<line x1="920" y1="1418" x2="1018.5" y2="1418" stroke="#000" stroke-width="2" stroke-linecap="butt" />
<text x="969.3" y="1422.4" font-size="24.5" text-anchor="middle" >***</text>
<text x="1254" y="1360.9" font-size="27" text-anchor="middle" >LINC01013</text>
<line x1="1237.5" y1="1678.72" x2="1335.5" y2="1422.81" stroke="#000" stroke-width="2.1" stroke-linecap="butt" />
<line x1="1237.5" y1="1681.37" x2="1335.5" y2="1437.97" stroke="#000" stroke-width="2.1" stroke-linecap="butt" />
<line x1="1237.5" y1="1683.27" x2="1335.5" y2="1560.43" stroke="#000" stroke-width="2.1" stroke-linecap="butt" />
<line x1="1237.5" y1="1684.78" x2="1335.5" y2="1570.67" stroke="#000" stroke-width="2.1" stroke-linecap="butt" />
<line x1="1237.5" y1="1685.92" x2="1335.5" y2="1581.28" stroke="#000" stroke-width="2.1" stroke-linecap="butt" />
<line x1="1173.2" y1="1381.8" x2="1173.2" y2="1687.6" stroke="#000" stroke-width="2.5" stroke-linecap="butt" />
<line x1="1163.9" y1="1686.3" x2="1400.7" y2="1686.3" stroke="#000" stroke-width="2.6" stroke-linecap="butt" />
<text x="1158.6" y="1695.4" font-size="23" text-anchor="end" >0</text>
<line x1="1163.9" y1="1648.39" x2="1173.2" y2="1648.39" stroke="#000" stroke-width="2.3" stroke-linecap="butt" />
<text x="1158.6" y="1657.49" font-size="23" text-anchor="end" >10</text>
<line x1="1163.9" y1="1610.47" x2="1173.2" y2="1610.47" stroke="#000" stroke-width="2.3" stroke-linecap="butt" />
<text x="1158.6" y="1619.57" font-size="23" text-anchor="end" >20</text>
<line x1="1163.9" y1="1572.56" x2="1173.2" y2="1572.56" stroke="#000" stroke-width="2.3" stroke-linecap="butt" />
<text x="1158.6" y="1581.66" font-size="23" text-anchor="end" >30</text>
<line x1="1163.9" y1="1534.65" x2="1173.2" y2="1534.65" stroke="#000" stroke-width="2.3" stroke-linecap="butt" />
<text x="1158.6" y="1543.75" font-size="23" text-anchor="end" >40</text>
<line x1="1163.9" y1="1496.74" x2="1173.2" y2="1496.74" stroke="#000" stroke-width="2.3" stroke-linecap="butt" />
<text x="1158.6" y="1505.84" font-size="23" text-anchor="end" >50</text>
<line x1="1163.9" y1="1458.83" x2="1173.2" y2="1458.83" stroke="#000" stroke-width="2.3" stroke-linecap="butt" />
<text x="1158.6" y="1467.92" font-size="23" text-anchor="end" >60</text>
<line x1="1163.9" y1="1420.91" x2="1173.2" y2="1420.91" stroke="#000" stroke-width="2.3" stroke-linecap="butt" />
<text x="1158.6" y="1430.01" font-size="23" text-anchor="end" >70</text>
<line x1="1163.9" y1="1383" x2="1173.2" y2="1383" stroke="#000" stroke-width="2.3" stroke-linecap="butt" />
<text x="1158.6" y="1392.1" font-size="23" text-anchor="end" >80</text>
<line x1="1237.5" y1="1686.3" x2="1237.5" y2="1696.1" stroke="#000" stroke-width="2.3" stroke-linecap="butt" />
<text transform="translate(1244.7 1712.8) rotate(-45)" font-size="23.6" text-anchor="end" >LEC</text>
<line x1="1335.5" y1="1686.3" x2="1335.5" y2="1696.1" stroke="#000" stroke-width="2.3" stroke-linecap="butt" />
<text transform="translate(1342.7 1712.8) rotate(-45)" font-size="23.6" text-anchor="end" >BEC</text>
<text transform="translate(1126 1529.15) rotate(-90)" font-size="23" text-anchor="middle" >FC vs LEC</text>
<circle cx="1237.5" cy="1678.72" r="5.3" fill="#0AAB5F" />
<circle cx="1237.5" cy="1681.37" r="5.3" fill="#0AAB5F" />
<circle cx="1237.5" cy="1683.27" r="5.3" fill="#0AAB5F" />
<circle cx="1237.5" cy="1684.78" r="5.3" fill="#0AAB5F" />
<circle cx="1237.5" cy="1685.92" r="5.3" fill="#0AAB5F" />
<circle cx="1335.5" cy="1422.81" r="5.3" fill="#FB4B5E" />
<circle cx="1335.5" cy="1437.97" r="5.3" fill="#FB4B5E" />
<circle cx="1335.5" cy="1560.43" r="5.3" fill="#FB4B5E" />
<circle cx="1335.5" cy="1570.67" r="5.3" fill="#FB4B5E" />
<circle cx="1335.5" cy="1581.28" r="5.3" fill="#FB4B5E" />
<line x1="1237.5" y1="1410.2" x2="1336" y2="1410.2" stroke="#000" stroke-width="2" stroke-linecap="butt" />
<text x="1286.8" y="1414.6" font-size="24.5" text-anchor="middle" >**</text>
<text x="1411.5" y="764.5" font-size="29" font-weight="bold" >h</text>
<text x="1431" y="791.1" font-size="27.8" textLength="491.5" lengthAdjust="spacingAndGlyphs" >Subcellular localization of LEC lncRNAs</text>
<rect x="1524.35" y="818.9" width="31.1" height="161.63" fill="#0AAB5F" />
<rect x="1524.35" y="980.03" width="31.1" height="138.67" fill="#000" />
<line x1="1539.9" y1="968" x2="1539.9" y2="981.03" stroke="#000" stroke-width="2" stroke-linecap="butt" />
<line x1="1531.4" y1="968" x2="1548.4" y2="968" stroke="#000" stroke-width="2" stroke-linecap="butt" />
<rect x="1571.05" y="818.9" width="31.1" height="224.5" fill="#0AAB5F" />
<rect x="1571.05" y="1042.9" width="31.1" height="75.8" fill="#000" />
<line x1="1586.6" y1="1030.87" x2="1586.6" y2="1043.9" stroke="#000" stroke-width="2" stroke-linecap="butt" />
<line x1="1578.1" y1="1030.87" x2="1595.1" y2="1030.87" stroke="#000" stroke-width="2" stroke-linecap="butt" />
<rect x="1617.85" y="818.9" width="31.1" height="3.41" fill="#0AAB5F" />
<rect x="1617.85" y="821.81" width="31.1" height="296.89" fill="#000" />
<line x1="1633.4" y1="820.01" x2="1633.4" y2="822.81" stroke="#000" stroke-width="2" stroke-linecap="butt" />
<line x1="1624.9" y1="820.01" x2="1641.9" y2="820.01" stroke="#000" stroke-width="2" stroke-linecap="butt" />
<rect x="1664.45" y="818.9" width="31.1" height="152.31" fill="#0AAB5F" />
<rect x="1664.45" y="970.71" width="31.1" height="147.99" fill="#000" />
<line x1="1680" y1="946.94" x2="1680" y2="971.71" stroke="#000" stroke-width="2" stroke-linecap="butt" />
<line x1="1671.5" y1="946.94" x2="1688.5" y2="946.94" stroke="#000" stroke-width="2" stroke-linecap="butt" />
<rect x="1711.15" y="818.9" width="31.1" height="96.66" fill="#0AAB5F" />
<rect x="1711.15" y="915.06" width="31.1" height="203.64" fill="#000" />
<line x1="1726.7" y1="890.69" x2="1726.7" y2="916.06" stroke="#000" stroke-width="2" stroke-linecap="butt" />
<line x1="1718.2" y1="890.69" x2="1735.2" y2="890.69" stroke="#000" stroke-width="2" stroke-linecap="butt" />
<line x1="1509.3" y1="816.7" x2="1509.3" y2="1119.9" stroke="#000" stroke-width="2.4" stroke-linecap="butt" />
<line x1="1499.6" y1="1118.7" x2="1758" y2="1118.7" stroke="#000" stroke-width="2.4" stroke-linecap="butt" />
<text x="1494.5" y="1127.6" font-size="23" text-anchor="end" >0</text>
<line x1="1499.6" y1="1088.62" x2="1509.3" y2="1088.62" stroke="#000" stroke-width="2.2" stroke-linecap="butt" />
<text x="1494.5" y="1097.52" font-size="23" text-anchor="end" >10</text>
<line x1="1499.6" y1="1058.54" x2="1509.3" y2="1058.54" stroke="#000" stroke-width="2.2" stroke-linecap="butt" />
<text x="1494.5" y="1067.44" font-size="23" text-anchor="end" >20</text>
<line x1="1499.6" y1="1028.46" x2="1509.3" y2="1028.46" stroke="#000" stroke-width="2.2" stroke-linecap="butt" />
<text x="1494.5" y="1037.36" font-size="23" text-anchor="end" >30</text>
<line x1="1499.6" y1="998.38" x2="1509.3" y2="998.38" stroke="#000" stroke-width="2.2" stroke-linecap="butt" />
<text x="1494.5" y="1007.28" font-size="23" text-anchor="end" >40</text>
<line x1="1499.6" y1="968.3" x2="1509.3" y2="968.3" stroke="#000" stroke-width="2.2" stroke-linecap="butt" />
<text x="1494.5" y="977.2" font-size="23" text-anchor="end" >50</text>
<line x1="1499.6" y1="938.22" x2="1509.3" y2="938.22" stroke="#000" stroke-width="2.2" stroke-linecap="butt" />
<text x="1494.5" y="947.12" font-size="23" text-anchor="end" >60</text>
<line x1="1499.6" y1="908.14" x2="1509.3" y2="908.14" stroke="#000" stroke-width="2.2" stroke-linecap="butt" />
<text x="1494.5" y="917.04" font-size="23" text-anchor="end" >70</text>
<line x1="1499.6" y1="878.06" x2="1509.3" y2="878.06" stroke="#000" stroke-width="2.2" stroke-linecap="butt" />
<text x="1494.5" y="886.96" font-size="23" text-anchor="end" >80</text>
<line x1="1499.6" y1="847.98" x2="1509.3" y2="847.98" stroke="#000" stroke-width="2.2" stroke-linecap="butt" />
<text x="1494.5" y="856.88" font-size="23" text-anchor="end" >90</text>
<line x1="1499.6" y1="817.9" x2="1509.3" y2="817.9" stroke="#000" stroke-width="2.2" stroke-linecap="butt" />
<text x="1494.5" y="826.8" font-size="23" text-anchor="end" >100</text>
<line x1="1539.9" y1="1118.7" x2="1539.9" y2="1128.3" stroke="#000" stroke-width="2.2" stroke-linecap="butt" />
<text transform="translate(1547.1 1145.2) rotate(-45)" font-size="23.6" text-anchor="end" >RPLP0</text>
<line x1="1586.6" y1="1118.7" x2="1586.6" y2="1128.3" stroke="#000" stroke-width="2.2" stroke-linecap="butt" />
<text transform="translate(1593.8 1145.2) rotate(-45)" font-size="23.6" text-anchor="end" >18S rRNA</text>
<line x1="1633.4" y1="1118.7" x2="1633.4" y2="1128.3" stroke="#000" stroke-width="2.2" stroke-linecap="butt" />
<text transform="translate(1640.6 1145.2) rotate(-45)" font-size="23.6" text-anchor="end" >MALAT1</text>
<line x1="1680" y1="1118.7" x2="1680" y2="1128.3" stroke="#000" stroke-width="2.2" stroke-linecap="butt" />
<text transform="translate(1687.2 1145.2) rotate(-45)" font-size="23.6" text-anchor="end" >AL583785.1</text>
<line x1="1726.7" y1="1118.7" x2="1726.7" y2="1128.3" stroke="#000" stroke-width="2.2" stroke-linecap="butt" />
<text transform="translate(1733.9 1145.2) rotate(-45)" font-size="23.6" text-anchor="end" >LETR1</text>
<text transform="translate(1448.5 970) rotate(-90)" font-size="23" text-anchor="middle" textLength="316" lengthAdjust="spacingAndGlyphs" >Nuclear vs cytoplasmic fraction</text>
<rect x="1771" y="819.2" width="27.8" height="18.6" fill="#0AAB5F" />
<rect x="1771" y="844" width="27.8" height="18.4" fill="#000" />
<text x="1814.5" y="837.3" font-size="23" >Cytoplasmic</text>
<text x="1814.5" y="862" font-size="23" >Nuclear</text>
<text x="1411.5" y="1274.4" font-size="29" font-weight="bold" >i</text>
<text x="1428.3" y="1307.5" font-size="27.8" textLength="493.5" lengthAdjust="spacingAndGlyphs" >Subcellular localization of BEC lncRNAs</text>
<rect x="1524.35" y="1336.9" width="31.1" height="205.55" fill="#FB4B5E" />
<rect x="1524.35" y="1541.95" width="31.1" height="94.75" fill="#000" />
<line x1="1539.9" y1="1514.88" x2="1539.9" y2="1542.95" stroke="#000" stroke-width="2" stroke-linecap="butt" />
<line x1="1531.4" y1="1514.88" x2="1548.4" y2="1514.88" stroke="#000" stroke-width="2" stroke-linecap="butt" />
<rect x="1571.05" y="1336.9" width="31.1" height="238.03" fill="#FB4B5E" />
<rect x="1571.05" y="1574.43" width="31.1" height="62.27" fill="#000" />
<line x1="1586.6" y1="1561.8" x2="1586.6" y2="1575.43" stroke="#000" stroke-width="2" stroke-linecap="butt" />
<line x1="1578.1" y1="1561.8" x2="1595.1" y2="1561.8" stroke="#000" stroke-width="2" stroke-linecap="butt" />
<rect x="1617.85" y="1336.9" width="31.1" height="1" fill="#FB4B5E" />
<rect x="1617.85" y="1337.4" width="31.1" height="299.3" fill="#000" />
<line x1="1633.4" y1="1336.2" x2="1633.4" y2="1338.4" stroke="#000" stroke-width="2" stroke-linecap="butt" />
<line x1="1624.9" y1="1336.2" x2="1641.9" y2="1336.2" stroke="#000" stroke-width="2" stroke-linecap="butt" />
<rect x="1664.45" y="1336.9" width="31.1" height="109.29" fill="#FB4B5E" />
<rect x="1664.45" y="1445.69" width="31.1" height="191.01" fill="#000" />
<line x1="1680" y1="1437.27" x2="1680" y2="1446.69" stroke="#000" stroke-width="2" stroke-linecap="butt" />
<line x1="1671.5" y1="1437.27" x2="1688.5" y2="1437.27" stroke="#000" stroke-width="2" stroke-linecap="butt" />
<rect x="1711.15" y="1336.9" width="31.1" height="84.33" fill="#FB4B5E" />
<rect x="1711.15" y="1420.73" width="31.1" height="215.97" fill="#000" />
<line x1="1726.7" y1="1406.89" x2="1726.7" y2="1421.73" stroke="#000" stroke-width="2" stroke-linecap="butt" />
<line x1="1718.2" y1="1406.89" x2="1735.2" y2="1406.89" stroke="#000" stroke-width="2" stroke-linecap="butt" />
<line x1="1509.3" y1="1334.7" x2="1509.3" y2="1637.9" stroke="#000" stroke-width="2.4" stroke-linecap="butt" />
<line x1="1499.6" y1="1636.7" x2="1758" y2="1636.7" stroke="#000" stroke-width="2.4" stroke-linecap="butt" />
<text x="1494.5" y="1645.6" font-size="23" text-anchor="end" >0</text>
<line x1="1499.6" y1="1606.62" x2="1509.3" y2="1606.62" stroke="#000" stroke-width="2.2" stroke-linecap="butt" />
<text x="1494.5" y="1615.52" font-size="23" text-anchor="end" >10</text>
<line x1="1499.6" y1="1576.54" x2="1509.3" y2="1576.54" stroke="#000" stroke-width="2.2" stroke-linecap="butt" />
<text x="1494.5" y="1585.44" font-size="23" text-anchor="end" >20</text>
<line x1="1499.6" y1="1546.46" x2="1509.3" y2="1546.46" stroke="#000" stroke-width="2.2" stroke-linecap="butt" />
<text x="1494.5" y="1555.36" font-size="23" text-anchor="end" >30</text>
<line x1="1499.6" y1="1516.38" x2="1509.3" y2="1516.38" stroke="#000" stroke-width="2.2" stroke-linecap="butt" />
<text x="1494.5" y="1525.28" font-size="23" text-anchor="end" >40</text>
<line x1="1499.6" y1="1486.3" x2="1509.3" y2="1486.3" stroke="#000" stroke-width="2.2" stroke-linecap="butt" />
<text x="1494.5" y="1495.2" font-size="23" text-anchor="end" >50</text>
<line x1="1499.6" y1="1456.22" x2="1509.3" y2="1456.22" stroke="#000" stroke-width="2.2" stroke-linecap="butt" />
<text x="1494.5" y="1465.12" font-size="23" text-anchor="end" >60</text>
<line x1="1499.6" y1="1426.14" x2="1509.3" y2="1426.14" stroke="#000" stroke-width="2.2" stroke-linecap="butt" />
<text x="1494.5" y="1435.04" font-size="23" text-anchor="end" >70</text>
<line x1="1499.6" y1="1396.06" x2="1509.3" y2="1396.06" stroke="#000" stroke-width="2.2" stroke-linecap="butt" />
<text x="1494.5" y="1404.96" font-size="23" text-anchor="end" >80</text>
<line x1="1499.6" y1="1365.98" x2="1509.3" y2="1365.98" stroke="#000" stroke-width="2.2" stroke-linecap="butt" />
<text x="1494.5" y="1374.88" font-size="23" text-anchor="end" >90</text>
<line x1="1499.6" y1="1335.9" x2="1509.3" y2="1335.9" stroke="#000" stroke-width="2.2" stroke-linecap="butt" />
<text x="1494.5" y="1344.8" font-size="23" text-anchor="end" >100</text>
<line x1="1539.9" y1="1636.7" x2="1539.9" y2="1646.3" stroke="#000" stroke-width="2.2" stroke-linecap="butt" />
<text transform="translate(1547.1 1663.2) rotate(-45)" font-size="23.6" text-anchor="end" >RPLP0</text>
<line x1="1586.6" y1="1636.7" x2="1586.6" y2="1646.3" stroke="#000" stroke-width="2.2" stroke-linecap="butt" />
<text transform="translate(1593.8 1663.2) rotate(-45)" font-size="23.6" text-anchor="end" >18S rRNA</text>
<line x1="1633.4" y1="1636.7" x2="1633.4" y2="1646.3" stroke="#000" stroke-width="2.2" stroke-linecap="butt" />
<text transform="translate(1640.6 1663.2) rotate(-45)" font-size="23.6" text-anchor="end" >MALAT1</text>
<line x1="1680" y1="1636.7" x2="1680" y2="1646.3" stroke="#000" stroke-width="2.2" stroke-linecap="butt" />
<text transform="translate(1687.2 1663.2) rotate(-45)" font-size="23.6" text-anchor="end" >LINC00973</text>
<line x1="1726.7" y1="1636.7" x2="1726.7" y2="1646.3" stroke="#000" stroke-width="2.2" stroke-linecap="butt" />
<text transform="translate(1733.9 1663.2) rotate(-45)" font-size="23.6" text-anchor="end" >LINC01013</text>
<text transform="translate(1448.5 1488) rotate(-90)" font-size="23" text-anchor="middle" textLength="316" lengthAdjust="spacingAndGlyphs" >Nuclear vs cytoplasmic fraction</text>
<rect x="1771" y="1337.2" width="27.8" height="18.6" fill="#FB4B5E" />
<rect x="1771" y="1362" width="27.8" height="18.4" fill="#000" />
<text x="1814.5" y="1355.3" font-size="23" >Cytoplasmic</text>
<text x="1814.5" y="1380" font-size="23" >Nuclear</text>
<text x="1095.5" y="1790" font-size="29" font-weight="bold" >g</text>
<text x="1118.5" y="1820.6" font-size="26.9" textLength="880" lengthAdjust="spacingAndGlyphs" >Quantification of lncRNA candidates expression in sorted LECs and BECs</text>
<rect x="1458.1" y="1836.2" width="27.6" height="18.5" fill="#0AAB5F" />
<text x="1502.3" y="1854.2" font-size="23" >LEC</text>
<rect x="1567.3" y="1836.2" width="27.8" height="18.5" fill="#FB4B5E" />
<text x="1611.6" y="1854.2" font-size="23" >BEC</text>
<rect x="1220.25" y="2170.71" width="25.1" height="7.39" fill="#0AAB5F" />
<rect x="1257.85" y="2164.9" width="25.1" height="13.2" fill="#FB4B5E" />
<line x1="1270.4" y1="2158.3" x2="1270.4" y2="2164.9" stroke="#000" stroke-width="2" stroke-linecap="butt" />
<line x1="1263.2" y1="2158.3" x2="1277.6" y2="2158.3" stroke="#000" stroke-width="2" stroke-linecap="butt" />
<rect x="1319.85" y="2017.06" width="25.1" height="161.04" fill="#0AAB5F" />
<rect x="1357.45" y="2164.9" width="25.1" height="13.2" fill="#FB4B5E" />
<line x1="1332.4" y1="1988.42" x2="1332.4" y2="2017.06" stroke="#000" stroke-width="2" stroke-linecap="butt" />
<line x1="1325.2" y1="1988.42" x2="1339.6" y2="1988.42" stroke="#000" stroke-width="2" stroke-linecap="butt" />
<line x1="1370" y1="2161.73" x2="1370" y2="2164.9" stroke="#000" stroke-width="2" stroke-linecap="butt" />
<line x1="1362.8" y1="2161.73" x2="1377.2" y2="2161.73" stroke="#000" stroke-width="2" stroke-linecap="butt" />
<rect x="1419.45" y="1967.1" width="25.1" height="211" fill="#0AAB5F" />
<rect x="1419.45" y="1916.18" width="25.1" height="28.62" fill="#0AAB5F" />
<rect x="1457.05" y="2164.9" width="25.1" height="13.2" fill="#FB4B5E" />
<line x1="1432" y1="1880.07" x2="1432" y2="1916.18" stroke="#000" stroke-width="2" stroke-linecap="butt" />
<line x1="1424.8" y1="1880.07" x2="1439.2" y2="1880.07" stroke="#000" stroke-width="2" stroke-linecap="butt" />
<line x1="1469.6" y1="2156.98" x2="1469.6" y2="2164.9" stroke="#000" stroke-width="2" stroke-linecap="butt" />
<line x1="1462.4" y1="2156.98" x2="1476.8" y2="2156.98" stroke="#000" stroke-width="2" stroke-linecap="butt" />
<rect x="1556.65" y="2164.9" width="25.1" height="13.2" fill="#FB4B5E" />
<line x1="1569.2" y1="2162.92" x2="1569.2" y2="2164.9" stroke="#000" stroke-width="2" stroke-linecap="butt" />
<line x1="1562" y1="2162.92" x2="1576.4" y2="2162.92" stroke="#000" stroke-width="2" stroke-linecap="butt" />
<rect x="1618.65" y="2128.86" width="25.1" height="49.24" fill="#0AAB5F" />
<rect x="1656.25" y="2164.9" width="25.1" height="13.2" fill="#FB4B5E" />
<line x1="1631.2" y1="2121.34" x2="1631.2" y2="2128.86" stroke="#000" stroke-width="2" stroke-linecap="butt" />
<line x1="1624" y1="2121.34" x2="1638.4" y2="2121.34" stroke="#000" stroke-width="2" stroke-linecap="butt" />
<line x1="1668.8" y1="2161.47" x2="1668.8" y2="2164.9" stroke="#000" stroke-width="2" stroke-linecap="butt" />
<line x1="1661.6" y1="2161.47" x2="1676" y2="2161.47" stroke="#000" stroke-width="2" stroke-linecap="butt" />
<rect x="1718.25" y="2030.52" width="25.1" height="147.58" fill="#0AAB5F" />
<rect x="1755.85" y="2164.9" width="25.1" height="13.2" fill="#FB4B5E" />
<line x1="1730.8" y1="2004.12" x2="1730.8" y2="2030.52" stroke="#000" stroke-width="2" stroke-linecap="butt" />
<line x1="1723.6" y1="2004.12" x2="1738" y2="2004.12" stroke="#000" stroke-width="2" stroke-linecap="butt" />
<line x1="1768.4" y1="2161.73" x2="1768.4" y2="2164.9" stroke="#000" stroke-width="2" stroke-linecap="butt" />
<line x1="1761.2" y1="2161.73" x2="1775.6" y2="2161.73" stroke="#000" stroke-width="2" stroke-linecap="butt" />
<rect x="1855.45" y="2164.9" width="25.1" height="13.2" fill="#FB4B5E" />
<line x1="1868" y1="2160.15" x2="1868" y2="2164.9" stroke="#000" stroke-width="2" stroke-linecap="butt" />
<line x1="1860.8" y1="2160.15" x2="1875.2" y2="2160.15" stroke="#000" stroke-width="2" stroke-linecap="butt" />
<rect x="1955.05" y="2164.9" width="25.1" height="13.2" fill="#FB4B5E" />
<line x1="1967.6" y1="2163.58" x2="1967.6" y2="2164.9" stroke="#000" stroke-width="2" stroke-linecap="butt" />
<line x1="1960.4" y1="2163.58" x2="1974.8" y2="2163.58" stroke="#000" stroke-width="2" stroke-linecap="butt" />
<line x1="1208.3" y1="1872.6" x2="1208.3" y2="1944.5" stroke="#000" stroke-width="2.3" stroke-linecap="butt" />
<line x1="1208.3" y1="1967.1" x2="1208.3" y2="2179.2" stroke="#000" stroke-width="2.3" stroke-linecap="butt" />
<line x1="1200.1" y1="1944.5" x2="1215" y2="1944.5" stroke="#000" stroke-width="2.2" stroke-linecap="butt" />
<line x1="1200.1" y1="1967.1" x2="1215" y2="1967.1" stroke="#000" stroke-width="2.2" stroke-linecap="butt" />
<line x1="1198.6" y1="2178.1" x2="1994.6" y2="2178.1" stroke="#000" stroke-width="2.4" stroke-linecap="butt" />
<text x="1193.5" y="2187" font-size="23" text-anchor="end" >0</text>
<line x1="1198.6" y1="2138.5" x2="1208.3" y2="2138.5" stroke="#000" stroke-width="2.2" stroke-linecap="butt" />
<text x="1193.5" y="2147.4" font-size="23" text-anchor="end" >3</text>
<line x1="1198.6" y1="2098.9" x2="1208.3" y2="2098.9" stroke="#000" stroke-width="2.2" stroke-linecap="butt" />
<text x="1193.5" y="2107.8" font-size="23" text-anchor="end" >6</text>
<line x1="1198.6" y1="2059.3" x2="1208.3" y2="2059.3" stroke="#000" stroke-width="2.2" stroke-linecap="butt" />
<text x="1193.5" y="2068.2" font-size="23" text-anchor="end" >9</text>
<line x1="1198.6" y1="2019.7" x2="1208.3" y2="2019.7" stroke="#000" stroke-width="2.2" stroke-linecap="butt" />
<text x="1193.5" y="2028.6" font-size="23" text-anchor="end" >12</text>
<line x1="1198.6" y1="1980.1" x2="1208.3" y2="1980.1" stroke="#000" stroke-width="2.2" stroke-linecap="butt" />
<text x="1193.5" y="1989" font-size="23" text-anchor="end" >15</text>
<text x="1193.5" y="1953.4" font-size="23" text-anchor="end" >100</text>
<line x1="1198.6" y1="1909.1" x2="1208.3" y2="1909.1" stroke="#000" stroke-width="2.2" stroke-linecap="butt" />
<text x="1193.5" y="1918" font-size="23" text-anchor="end" >200</text>
<line x1="1198.6" y1="1873.7" x2="1208.3" y2="1873.7" stroke="#000" stroke-width="2.2" stroke-linecap="butt" />
<text x="1193.5" y="1882.6" font-size="23" text-anchor="end" >300</text>
<text transform="translate(1142.9 2021.5) rotate(-90)" font-size="23" text-anchor="middle" >FC vs BEC</text>
<line x1="1251.5" y1="2178.1" x2="1251.5" y2="2187.5" stroke="#000" stroke-width="2.2" stroke-linecap="butt" />
<text transform="translate(1258.7 2204.6) rotate(-45)" font-size="23.6" text-anchor="end" >CD31</text>
<circle cx="1226" cy="2169.92" r="3.85" fill="#000" />
<circle cx="1233" cy="2171.76" r="3.85" fill="#000" />
<circle cx="1240" cy="2170.97" r="3.85" fill="#000" />
<circle cx="1270.4" cy="2157.38" r="3.85" fill="#000" />
<circle cx="1264.2" cy="2169.92" r="3.85" fill="#000" />
<circle cx="1276.3" cy="2168.86" r="3.85" fill="#000" />
<text x="1233.3" y="2157.6" font-size="24" text-anchor="middle" >ns</text>
<line x1="1351.1" y1="2178.1" x2="1351.1" y2="2187.5" stroke="#000" stroke-width="2.2" stroke-linecap="butt" />
<text transform="translate(1358.3 2204.6) rotate(-45)" font-size="23.6" text-anchor="end" >PROX1</text>
<circle cx="1332.4" cy="1992.51" r="3.85" fill="#000" />
<circle cx="1332.4" cy="2010.46" r="3.85" fill="#000" />
<circle cx="1332.4" cy="2049" r="3.85" fill="#000" />
<circle cx="1362.8" cy="2162.66" r="3.85" fill="#000" />
<circle cx="1369.8" cy="2168.6" r="3.85" fill="#000" />
<circle cx="1377.2" cy="2164.5" r="3.85" fill="#000" />
<text x="1332.4" y="1986.8" font-size="22.6" text-anchor="middle" >****</text>
<line x1="1450.7" y1="2178.1" x2="1450.7" y2="2187.5" stroke="#000" stroke-width="2.2" stroke-linecap="butt" />
<text transform="translate(1457.9 2204.6) rotate(-45)" font-size="23.6" text-anchor="end" >PDPN</text>
<circle cx="1432" cy="1874.76" r="3.85" fill="#000" />
<circle cx="1426.1" cy="1937.42" r="3.85" fill="#000" />
<circle cx="1437.9" cy="1936.71" r="3.85" fill="#000" />
<circle cx="1469.6" cy="2157.11" r="3.85" fill="#000" />
<circle cx="1475.8" cy="2163.71" r="3.85" fill="#000" />
<circle cx="1463.7" cy="2174.27" r="3.85" fill="#000" />
<text x="1432" y="1873.1" font-size="22.6" text-anchor="middle" >**</text>
<line x1="1550.3" y1="2178.1" x2="1550.3" y2="2187.5" stroke="#000" stroke-width="2.2" stroke-linecap="butt" />
<text transform="translate(1557.5 2204.6) rotate(-45)" font-size="23.6" text-anchor="end" >FLT1</text>
<circle cx="1524.7" cy="2176.78" r="3.85" fill="#000" />
<circle cx="1531.6" cy="2178.1" r="3.85" fill="#000" />
<circle cx="1538.5" cy="2177.04" r="3.85" fill="#000" />
<circle cx="1562.3" cy="2163.18" r="3.85" fill="#000" />
<circle cx="1569.5" cy="2168.07" r="3.85" fill="#000" />
<circle cx="1576.7" cy="2165.03" r="3.85" fill="#000" />
<text x="1531.6" y="2176.3" font-size="22.6" text-anchor="middle" >*</text>
<line x1="1649.9" y1="2178.1" x2="1649.9" y2="2187.5" stroke="#000" stroke-width="2.2" stroke-linecap="butt" />
<text transform="translate(1657.1 2204.6) rotate(-45)" font-size="23.6" text-anchor="end" >AL583785.1</text>
<circle cx="1631.2" cy="2120.94" r="3.85" fill="#000" />
<circle cx="1637.4" cy="2130.84" r="3.85" fill="#000" />
<circle cx="1625.3" cy="2135.46" r="3.85" fill="#000" />
<circle cx="1661.7" cy="2162" r="3.85" fill="#000" />
<circle cx="1668.9" cy="2168.07" r="3.85" fill="#000" />
<circle cx="1676.3" cy="2166.62" r="3.85" fill="#000" />
<text x="1631.2" y="2119.5" font-size="22.6" text-anchor="middle" >**</text>
<line x1="1749.5" y1="2178.1" x2="1749.5" y2="2187.5" stroke="#000" stroke-width="2.2" stroke-linecap="butt" />
<text transform="translate(1756.7 2204.6) rotate(-45)" font-size="23.6" text-anchor="end" >LETR1</text>
<circle cx="1730.8" cy="2008.74" r="3.85" fill="#000" />
<circle cx="1730.8" cy="2024.06" r="3.85" fill="#000" />
<circle cx="1730.8" cy="2059.83" r="3.85" fill="#000" />
<circle cx="1761.6" cy="2162.26" r="3.85" fill="#000" />
<circle cx="1768.3" cy="2169.39" r="3.85" fill="#000" />
<circle cx="1775.2" cy="2165.16" r="3.85" fill="#000" />
<text x="1730.8" y="2003.3" font-size="22.6" text-anchor="middle" >**</text>
<line x1="1849.1" y1="2178.1" x2="1849.1" y2="2187.5" stroke="#000" stroke-width="2.2" stroke-linecap="butt" />
<text transform="translate(1856.3 2204.6) rotate(-45)" font-size="23.6" text-anchor="end" >LINC00973</text>
<circle cx="1823.6" cy="2178.1" r="3.85" fill="#000" />
<circle cx="1830.4" cy="2178.1" r="3.85" fill="#000" />
<circle cx="1837.3" cy="2178.1" r="3.85" fill="#000" />
<circle cx="1861.6" cy="2160.15" r="3.85" fill="#000" />
<circle cx="1875.2" cy="2164.9" r="3.85" fill="#000" />
<circle cx="1868.3" cy="2170.44" r="3.85" fill="#000" />
<text x="1830.4" y="2169.9" font-size="24" text-anchor="middle" >n.d.</text>
<line x1="1948.7" y1="2178.1" x2="1948.7" y2="2187.5" stroke="#000" stroke-width="2.2" stroke-linecap="butt" />
<text transform="translate(1955.9 2204.6) rotate(-45)" font-size="23.6" text-anchor="end" >LINC01013</text>
<circle cx="1923.1" cy="2176.78" r="3.85" fill="#000" />
<circle cx="1930" cy="2178.1" r="3.85" fill="#000" />
<circle cx="1936.9" cy="2178.1" r="3.85" fill="#000" />
<circle cx="1960.8" cy="2163.84" r="3.85" fill="#000" />
<circle cx="1967.7" cy="2166.88" r="3.85" fill="#000" />
<circle cx="1974.9" cy="2164.37" r="3.85" fill="#000" />
<text x="1930" y="2176" font-size="22.6" text-anchor="middle" >*</text>
<text x="0.5" y="1790.5" font-size="29" font-weight="bold" >f</text>
<g transform="translate(76.6 1797)" filter="url(#f1)"><path d="M120,188 L194,181 L194,188 L160,191.5 Z" fill="#fff" fill-opacity="0.12"/><path d="M3.4,0 L194,0 L194,180.6 L162,184.6 L17,195.2 L3.4,195 Z" fill="url(#q1)"/><path d="M6,0 L194,0 L194,130 L6,130 Z" fill="url(#q2)"/><g filter="url(#bl3)"><path d="M16,0 L194,0 L194,130 L12,130 Z" fill="url(#q3)"/></g><g clip-path="url(#cf1)"><ellipse cx="70" cy="172" rx="135" ry="52" fill="url(#q4)" transform="rotate(-10 70 172)"/><ellipse cx="38" cy="185" rx="56" ry="14" fill="url(#q5)" transform="rotate(-4 38 185)"/><ellipse cx="21" cy="188.3" rx="25" ry="7.6" fill="url(#q6)" transform="rotate(-2 21 188.3)"/><ellipse cx="4.8" cy="192.4" rx="3.6" ry="2.5" fill="url(#q7)"/></g></g>
<rect x="76.6" y="1797" width="193.7" height="193.6" fill="none" stroke="#1a1a1a" stroke-width="1.4" />
<text x="68.4" y="1993.9" font-size="11.8" text-anchor="end" class="s" >0</text>
<text x="68.4" y="1957.18" font-size="11.8" text-anchor="end" class="s" >50K</text>
<text x="68.4" y="1920.46" font-size="11.8" text-anchor="end" class="s" >100K</text>
<text x="68.4" y="1883.74" font-size="11.8" text-anchor="end" class="s" >150K</text>
<text x="68.4" y="1847.02" font-size="11.8" text-anchor="end" class="s" >200K</text>
<text x="68.4" y="1810.3" font-size="11.8" text-anchor="end" class="s" >250K</text>
<text x="78.5" y="2010.9" font-size="11.8" text-anchor="middle" class="s" >0</text>
<text x="115.22" y="2010.9" font-size="11.8" text-anchor="middle" class="s" >50K</text>
<text x="151.94" y="2010.9" font-size="11.8" text-anchor="middle" class="s" >100K</text>
<text x="188.66" y="2010.9" font-size="11.8" text-anchor="middle" class="s" >150K</text>
<text x="225.38" y="2010.9" font-size="11.8" text-anchor="middle" class="s" >200K</text>
<text x="262.1" y="2010.9" font-size="11.8" text-anchor="middle" class="s" >250K</text>
<path d="M76.6 1989.6h-5.6M76.6 1952.88h-5.6M76.6 1916.16h-5.6M76.6 1879.44h-5.6M76.6 1842.72h-5.6M76.6 1806h-5.6M77 1990.6v5.6M113.72 1990.6v5.6M150.44 1990.6v5.6M187.16 1990.6v5.6M223.88 1990.6v5.6M260.6 1990.6v5.6" stroke="#111" stroke-width="1.2" fill="none"/>
<path d="M76.6 1982.26h-2.9M76.6 1974.91h-2.9M76.6 1967.57h-2.9M76.6 1960.22h-2.9M76.6 1945.54h-2.9M76.6 1938.19h-2.9M76.6 1930.85h-2.9M76.6 1923.5h-2.9M76.6 1908.82h-2.9M76.6 1901.47h-2.9M76.6 1894.13h-2.9M76.6 1886.78h-2.9M76.6 1872.1h-2.9M76.6 1864.75h-2.9M76.6 1857.41h-2.9M76.6 1850.06h-2.9M76.6 1835.38h-2.9M76.6 1828.03h-2.9M76.6 1820.69h-2.9M76.6 1813.34h-2.9M76.6 1798.66h-2.9M84.34 1990.6v2.9M91.69 1990.6v2.9M99.03 1990.6v2.9M106.38 1990.6v2.9M121.06 1990.6v2.9M128.41 1990.6v2.9M135.75 1990.6v2.9M143.1 1990.6v2.9M157.78 1990.6v2.9M165.13 1990.6v2.9M172.47 1990.6v2.9M179.82 1990.6v2.9M194.5 1990.6v2.9M201.85 1990.6v2.9M209.19 1990.6v2.9M216.54 1990.6v2.9M231.22 1990.6v2.9M238.57 1990.6v2.9M245.91 1990.6v2.9M253.26 1990.6v2.9M267.94 1990.6v2.9" stroke="#111" stroke-width="1.0" fill="none"/>
<text x="176.9" y="2029" font-size="19.9" text-anchor="middle" >FSC-A</text>
<text transform="translate(36.3 1887) rotate(-90)" font-size="19.9" text-anchor="middle" >SSC-A</text>
<polygon points="88.2,1960.8 108,1927.7 232.7,1912.8 239.7,1960.8 238.6,1981.2 93.8,1992.3" fill="none" stroke="#000" stroke-width="1.3" stroke-linejoin="miter" />
<g transform="translate(344.6 1797)" filter="url(#f2)"><g filter="url(#bl1)"><path d="M30,181 C30,163 50,154 76,154 L112,154.5 C130,157 150,157 159,158 L165,162 L166,186 C158,192 148,192.5 138,192.5 L50,192.5 C38,192 30,188 30,181 Z" fill="#fff" fill-opacity="0.14"/></g><path d="M162,160 L181,163 L181,190 L162,190 Z" fill="#fff" fill-opacity="0.1"/><rect x="181" y="160" width="12" height="31" fill="#fff" fill-opacity="0.1"/><rect x="191.4" y="163" width="1.8" height="29" fill="#fff" fill-opacity="0.12"/><g filter="url(#bl1_2)"><path d="M34,180 C34,166 52,157.5 76,157.2 L110,157.8 C128,160.5 145,160 153,161 C159,162 161.8,166 161.8,172 L161.8,181 C161.8,187 157,190.6 147,190.6 L52,190.6 C41,190 34,186 34,180 Z" fill="#fff" fill-opacity="0.3"/></g><g clip-path="url(#cf2)"><ellipse cx="62" cy="177" rx="52" ry="19" fill="url(#q8)" transform="rotate(-8 62 177)"/><ellipse cx="56" cy="181" rx="19" ry="8.5" fill="url(#q9)" transform="rotate(-8 56 181)"/><ellipse cx="55.3" cy="183.6" rx="5.5" ry="3.2" fill="url(#q10)"/><ellipse cx="44.2" cy="182.2" rx="6.2" ry="5" fill="url(#q11)"/><ellipse cx="132" cy="180" rx="52" ry="13.5" fill="url(#q12)"/><ellipse cx="146.5" cy="181.6" rx="13" ry="6" fill="url(#q13)"/></g></g>
<rect x="344.6" y="1797" width="193.7" height="193.6" fill="none" stroke="#1a1a1a" stroke-width="1.4" />
<text x="336.4" y="1993.9" font-size="11.8" text-anchor="end" class="s" >0</text>
<text x="336.4" y="1957.18" font-size="11.8" text-anchor="end" class="s" >50K</text>
<text x="336.4" y="1920.46" font-size="11.8" text-anchor="end" class="s" >100K</text>
<text x="336.4" y="1883.74" font-size="11.8" text-anchor="end" class="s" >150K</text>
<text x="336.4" y="1847.02" font-size="11.8" text-anchor="end" class="s" >200K</text>
<text x="336.4" y="1810.3" font-size="11.8" text-anchor="end" class="s" >250K</text>
<rect x="385.9" y="1990.6" width="5.2" height="3.6" fill="#111" />
<text x="348.2" y="2010.9" font-size="11.8" class="s">-10<tspan dy="-4.4" font-size="7.2">3</tspan></text>
<text x="415.9" y="2010.9" font-size="11.8" class="s">10<tspan dy="-4.4" font-size="7.2">3</tspan></text>
<text x="469.3" y="2010.9" font-size="11.8" class="s">10<tspan dy="-4.4" font-size="7.2">4</tspan></text>
<text x="514.3" y="2010.9" font-size="11.8" class="s">10<tspan dy="-4.4" font-size="7.2">5</tspan></text>
<text x="388.8" y="2010.9" font-size="11.8" text-anchor="middle" class="s" >0</text>
<path d="M344.6 1989.6h-5.6M344.6 1952.88h-5.6M344.6 1916.16h-5.6M344.6 1879.44h-5.6M344.6 1842.72h-5.6M344.6 1806h-5.6M356.4 1990.6v5.6M388.5 1990.6v5.6M420.5 1990.6v5.6M473.2 1990.6v5.6M519.5 1990.6v5.6" stroke="#111" stroke-width="1.2" fill="none"/>
<path d="M344.6 1982.26h-2.9M344.6 1974.91h-2.9M344.6 1967.57h-2.9M344.6 1960.22h-2.9M344.6 1945.54h-2.9M344.6 1938.19h-2.9M344.6 1930.85h-2.9M344.6 1923.5h-2.9M344.6 1908.82h-2.9M344.6 1901.47h-2.9M344.6 1894.13h-2.9M344.6 1886.78h-2.9M344.6 1872.1h-2.9M344.6 1864.75h-2.9M344.6 1857.41h-2.9M344.6 1850.06h-2.9M344.6 1835.38h-2.9M344.6 1828.03h-2.9M344.6 1820.69h-2.9M344.6 1813.34h-2.9M344.6 1798.66h-2.9M436.36 1990.6v3M445.64 1990.6v3M452.23 1990.6v3M457.34 1990.6v3M461.51 1990.6v3M465.04 1990.6v3M468.09 1990.6v3M470.79 1990.6v3M487.14 1990.6v3M495.29 1990.6v3M501.08 1990.6v3M505.56 1990.6v3M509.23 1990.6v3M512.33 1990.6v3M515.01 1990.6v3M517.38 1990.6v3M533.44 1990.6v3M398.38 1990.6v3M378.62 1990.6v3M404.37 1990.6v3M372.63 1990.6v3M408.29 1990.6v3M368.71 1990.6v3M411.16 1990.6v3M365.84 1990.6v3M413.41 1990.6v3M363.59 1990.6v3M415.27 1990.6v3M361.73 1990.6v3M416.84 1990.6v3M360.16 1990.6v3M418.21 1990.6v3M358.79 1990.6v3M419.42 1990.6v3M357.58 1990.6v3" stroke="#111" stroke-width="1.0" fill="none"/>
<text x="444.9" y="2029" font-size="19.9" text-anchor="middle" >CD45-FITC</text>
<text transform="translate(304.3 1887) rotate(-90)" font-size="19.9" text-anchor="middle" >FSC-H</text>
<polygon points="370.1,1932.9 439.6,1932.9 437.4,1983.9 412.3,1988.4 367.9,1988.4" fill="none" stroke="#000" stroke-width="1.2" stroke-linejoin="miter" />
<text x="375" y="1925.7" font-size="23" >CD45-</text>
<g transform="translate(612.1 1797)" filter="url(#f3)"><polygon points="9.6,188.5 10.5,183.2 45.1,170.3 78.6,162.8 112.1,158.6 145.5,154.4 165.3,153.6 165.6,178.6 145.5,183.2 112.1,185 61.8,189.2 14.5,193" fill="#fff" fill-opacity="0.15"/><path d="M11.1,188.1 L11.8,185.1 L45.1,172.4 L78.6,164.9 L112.1,160.7 L145.5,156.5 L164,155.6 L164,177 L145.5,181.2 L112.1,182.9 L61.8,187.1 L15,191.2 Z" fill="#fff" fill-opacity="0.3"/><g clip-path="url(#cf3)"><ellipse cx="60" cy="176.3" rx="64" ry="7" fill="url(#q14)" transform="rotate(-11 60 176.3)"/><ellipse cx="38" cy="179.8" rx="24" ry="4.3" fill="url(#q15)" transform="rotate(-11 38 179.8)"/><ellipse cx="26.5" cy="182.1" rx="11.5" ry="2.6" fill="url(#q16)" transform="rotate(-9 26.5 182.1)"/></g></g>
<rect x="612.1" y="1797" width="193.7" height="193.6" fill="none" stroke="#1a1a1a" stroke-width="1.4" />
<text x="603.9" y="1993.9" font-size="11.8" text-anchor="end" class="s" >0</text>
<text x="603.9" y="1957.18" font-size="11.8" text-anchor="end" class="s" >50K</text>
<text x="603.9" y="1920.46" font-size="11.8" text-anchor="end" class="s" >100K</text>
<text x="603.9" y="1883.74" font-size="11.8" text-anchor="end" class="s" >150K</text>
<text x="603.9" y="1847.02" font-size="11.8" text-anchor="end" class="s" >200K</text>
<text x="603.9" y="1810.3" font-size="11.8" text-anchor="end" class="s" >250K</text>
<text x="614" y="2010.9" font-size="11.8" text-anchor="middle" class="s" >0</text>
<text x="650.72" y="2010.9" font-size="11.8" text-anchor="middle" class="s" >50K</text>
<text x="687.44" y="2010.9" font-size="11.8" text-anchor="middle" class="s" >100K</text>
<text x="724.16" y="2010.9" font-size="11.8" text-anchor="middle" class="s" >150K</text>
<text x="760.88" y="2010.9" font-size="11.8" text-anchor="middle" class="s" >200K</text>
<text x="797.6" y="2010.9" font-size="11.8" text-anchor="middle" class="s" >250K</text>
<path d="M612.1 1989.6h-5.6M612.1 1952.88h-5.6M612.1 1916.16h-5.6M612.1 1879.44h-5.6M612.1 1842.72h-5.6M612.1 1806h-5.6M612.5 1990.6v5.6M649.22 1990.6v5.6M685.94 1990.6v5.6M722.66 1990.6v5.6M759.38 1990.6v5.6M796.1 1990.6v5.6" stroke="#111" stroke-width="1.2" fill="none"/>
<path d="M612.1 1982.26h-2.9M612.1 1974.91h-2.9M612.1 1967.57h-2.9M612.1 1960.22h-2.9M612.1 1945.54h-2.9M612.1 1938.19h-2.9M612.1 1930.85h-2.9M612.1 1923.5h-2.9M612.1 1908.82h-2.9M612.1 1901.47h-2.9M612.1 1894.13h-2.9M612.1 1886.78h-2.9M612.1 1872.1h-2.9M612.1 1864.75h-2.9M612.1 1857.41h-2.9M612.1 1850.06h-2.9M612.1 1835.38h-2.9M612.1 1828.03h-2.9M612.1 1820.69h-2.9M612.1 1813.34h-2.9M612.1 1798.66h-2.9M619.84 1990.6v2.9M627.19 1990.6v2.9M634.53 1990.6v2.9M641.88 1990.6v2.9M656.56 1990.6v2.9M663.91 1990.6v2.9M671.25 1990.6v2.9M678.6 1990.6v2.9M693.28 1990.6v2.9M700.63 1990.6v2.9M707.97 1990.6v2.9M715.32 1990.6v2.9M730 1990.6v2.9M737.35 1990.6v2.9M744.69 1990.6v2.9M752.04 1990.6v2.9M766.72 1990.6v2.9M774.07 1990.6v2.9M781.41 1990.6v2.9M788.76 1990.6v2.9M803.44 1990.6v2.9" stroke="#111" stroke-width="1.0" fill="none"/>
<text x="712.4" y="2029" font-size="19.9" text-anchor="middle" >FSC-A</text>
<text transform="translate(571.8 1887) rotate(-90)" font-size="19.9" text-anchor="middle" >FSC-H</text>
<polygon points="617.5,1980.9 728,1949.6 763.5,1955 625.7,1988.4" fill="none" stroke="#000" stroke-width="1.2" stroke-linejoin="miter" />
<text x="656.3" y="1941.2" font-size="23" >Single cells</text>
<g transform="translate(879.9 1797)" filter="url(#f4)"><path d="M34,193 L34,132 C34,122 40,117 50,117 L100,117.5 L178,121 L184,126 L184,160 L175,193 Z" fill="#fff" fill-opacity="0.14"/><path d="M150,193 L163,172 L174,160 L178,160 L172,193 Z" fill="#fff" fill-opacity="0.07"/><g filter="url(#bl1_2)"><path d="M36.4,194 L36.4,134 C36.4,125 41,120.3 50,120.3 L98,121 L172,125.5 L175,129 L174,160 L163,172 L150,194 Z" fill="#fff" fill-opacity="0.3"/></g><g clip-path="url(#cf4)"><ellipse cx="66" cy="166" rx="90" ry="56" fill="url(#q17)" transform="rotate(-8 66 166)"/><ellipse cx="76" cy="179" rx="66" ry="20" fill="url(#q18)" transform="rotate(-4 76 179)"/><ellipse cx="49.5" cy="160" rx="13" ry="44" fill="url(#q19)" transform="rotate(4 49.5 160)"/><ellipse cx="66" cy="182" rx="44" ry="8" fill="url(#q20)" transform="rotate(-3 66 182)"/><ellipse cx="48" cy="181" rx="11" ry="10" fill="url(#q21)" transform="rotate(-20 48 181)"/><ellipse cx="43.4" cy="188.2" rx="4.4" ry="7.2" fill="url(#q22)" transform="rotate(8 43.4 188.2)"/></g></g>
<rect x="879.9" y="1797" width="193.7" height="193.6" fill="none" stroke="#1a1a1a" stroke-width="1.4" />
<text x="871.7" y="1993.9" font-size="11.8" text-anchor="end" class="s" >0</text>
<text x="871.7" y="1957.18" font-size="11.8" text-anchor="end" class="s" >50K</text>
<text x="871.7" y="1920.46" font-size="11.8" text-anchor="end" class="s" >100K</text>
<text x="871.7" y="1883.74" font-size="11.8" text-anchor="end" class="s" >150K</text>
<text x="871.7" y="1847.02" font-size="11.8" text-anchor="end" class="s" >200K</text>
<text x="871.7" y="1810.3" font-size="11.8" text-anchor="end" class="s" >250K</text>
<rect x="921.2" y="1990.6" width="5.2" height="3.6" fill="#111" />
<text x="883.5" y="2010.9" font-size="11.8" class="s">-10<tspan dy="-4.4" font-size="7.2">3</tspan></text>
<text x="951.2" y="2010.9" font-size="11.8" class="s">10<tspan dy="-4.4" font-size="7.2">3</tspan></text>
<text x="1004.6" y="2010.9" font-size="11.8" class="s">10<tspan dy="-4.4" font-size="7.2">4</tspan></text>
<text x="1049.6" y="2010.9" font-size="11.8" class="s">10<tspan dy="-4.4" font-size="7.2">5</tspan></text>
<text x="924.1" y="2010.9" font-size="11.8" text-anchor="middle" class="s" >0</text>
<path d="M879.9 1989.6h-5.6M879.9 1952.88h-5.6M879.9 1916.16h-5.6M879.9 1879.44h-5.6M879.9 1842.72h-5.6M879.9 1806h-5.6M891.7 1990.6v5.6M923.8 1990.6v5.6M955.8 1990.6v5.6M1008.5 1990.6v5.6M1054.8 1990.6v5.6" stroke="#111" stroke-width="1.2" fill="none"/>
<path d="M879.9 1982.26h-2.9M879.9 1974.91h-2.9M879.9 1967.57h-2.9M879.9 1960.22h-2.9M879.9 1945.54h-2.9M879.9 1938.19h-2.9M879.9 1930.85h-2.9M879.9 1923.5h-2.9M879.9 1908.82h-2.9M879.9 1901.47h-2.9M879.9 1894.13h-2.9M879.9 1886.78h-2.9M879.9 1872.1h-2.9M879.9 1864.75h-2.9M879.9 1857.41h-2.9M879.9 1850.06h-2.9M879.9 1835.38h-2.9M879.9 1828.03h-2.9M879.9 1820.69h-2.9M879.9 1813.34h-2.9M879.9 1798.66h-2.9M971.66 1990.6v3M980.94 1990.6v3M987.53 1990.6v3M992.64 1990.6v3M996.81 1990.6v3M1000.34 1990.6v3M1003.39 1990.6v3M1006.09 1990.6v3M1022.44 1990.6v3M1030.59 1990.6v3M1036.38 1990.6v3M1040.86 1990.6v3M1044.53 1990.6v3M1047.63 1990.6v3M1050.31 1990.6v3M1052.68 1990.6v3M1068.74 1990.6v3M933.68 1990.6v3M913.92 1990.6v3M939.67 1990.6v3M907.93 1990.6v3M943.59 1990.6v3M904.01 1990.6v3M946.46 1990.6v3M901.14 1990.6v3M948.71 1990.6v3M898.89 1990.6v3M950.57 1990.6v3M897.03 1990.6v3M952.14 1990.6v3M895.46 1990.6v3M953.51 1990.6v3M894.09 1990.6v3M954.72 1990.6v3M892.88 1990.6v3" stroke="#111" stroke-width="1.0" fill="none"/>
<text x="980.2" y="2029" font-size="19.9" text-anchor="middle" >Live/Death-NIR</text>
<text transform="translate(839.6 1887) rotate(-90)" font-size="19.9" text-anchor="middle" >SSC-A</text>
<polygon points="905.5,1877.6 987.2,1880.8 982,1951.6 961.1,1990.1 905.5,1990.1" fill="none" stroke="#000" stroke-width="1.2" stroke-linejoin="miter" />
<text x="920.2" y="1867.1" font-size="23" >Alive</text>
<g transform="translate(76.6 2046.9)" filter="url(#f5)"><ellipse cx="84" cy="180" rx="34" ry="11" fill="url(#q23)" transform="rotate(-16 84 180)"/><ellipse cx="79" cy="185" rx="22" ry="4.4" fill="url(#q24)" transform="rotate(-4 79 185)"/></g>
<path d="M154.4 2233.2h1.2v1.1h-1.2zM151.5 2234.9h1.2v1.1h-1.2z" fill="#ffb020"/>
<path d="M171.7 2232.2h1.2v1.1h-1.2zM166.8 2232.4h1.2v1.1h-1.2zM148.9 2231h1.2v1.1h-1.2zM149 2231.9h1.2v1.1h-1.2zM151 2235.5h1.2v1.1h-1.2zM165.4 2233h1.2v1.1h-1.2zM149.2 2234.2h1.2v1.1h-1.2zM145.5 2233.6h1.2v1.1h-1.2zM141.4 2233.2h1.2v1.1h-1.2z" fill="#22cc44"/>
<path d="M154.6 2232.8h1.2v1.1h-1.2zM147.3 2233.8h1.2v1.1h-1.2z" fill="#9be31c"/>
<path d="M157.4 2232.9h1.2v1.1h-1.2zM160 2232.3h1.2v1.1h-1.2zM172.7 2232.2h1.2v1.1h-1.2zM145.7 2231.9h1.2v1.1h-1.2zM152.8 2230.8h1.2v1.1h-1.2zM137.8 2234.2h1.2v1.1h-1.2zM157.3 2231.5h1.2v1.1h-1.2zM145.8 2236.2h1.2v1.1h-1.2zM167.6 2228.1h1.2v1.1h-1.2zM159.6 2230.8h1.2v1.1h-1.2z" fill="#18c4c8"/>
<path d="M151.9 2235.4h1.2v1.1h-1.2zM152.9 2230.1h1.2v1.1h-1.2z" fill="#ff4020"/>
<path d="M139.5 2232.7h1.2v1.1h-1.2zM163.1 2233h1.2v1.1h-1.2zM168.8 2232.1h1.2v1.1h-1.2zM142.6 2232h1.2v1.1h-1.2zM155.6 2231.7h1.2v1.1h-1.2z" fill="#0a6cff"/>
<rect x="76.6" y="2046.9" width="193.7" height="193.6" fill="none" stroke="#1a1a1a" stroke-width="1.4" />
<text x="68.4" y="2243.8" font-size="11.8" text-anchor="end" class="s" >0</text>
<text x="68.4" y="2207.08" font-size="11.8" text-anchor="end" class="s" >50K</text>
<text x="68.4" y="2170.36" font-size="11.8" text-anchor="end" class="s" >100K</text>
<text x="68.4" y="2133.64" font-size="11.8" text-anchor="end" class="s" >150K</text>
<text x="68.4" y="2096.92" font-size="11.8" text-anchor="end" class="s" >200K</text>
<text x="68.4" y="2060.2" font-size="11.8" text-anchor="end" class="s" >250K</text>
<rect x="117.9" y="2240.5" width="5.2" height="3.6" fill="#111" />
<text x="80.2" y="2260.8" font-size="11.8" class="s">-10<tspan dy="-4.4" font-size="7.2">3</tspan></text>
<text x="147.9" y="2260.8" font-size="11.8" class="s">10<tspan dy="-4.4" font-size="7.2">3</tspan></text>
<text x="201.3" y="2260.8" font-size="11.8" class="s">10<tspan dy="-4.4" font-size="7.2">4</tspan></text>
<text x="246.3" y="2260.8" font-size="11.8" class="s">10<tspan dy="-4.4" font-size="7.2">5</tspan></text>
<text x="120.8" y="2260.8" font-size="11.8" text-anchor="middle" class="s" >0</text>
<path d="M76.6 2239.5h-5.6M76.6 2202.78h-5.6M76.6 2166.06h-5.6M76.6 2129.34h-5.6M76.6 2092.62h-5.6M76.6 2055.9h-5.6M88.4 2240.5v5.6M120.5 2240.5v5.6M152.5 2240.5v5.6M205.2 2240.5v5.6M251.5 2240.5v5.6" stroke="#111" stroke-width="1.2" fill="none"/>
<path d="M76.6 2232.16h-2.9M76.6 2224.81h-2.9M76.6 2217.47h-2.9M76.6 2210.12h-2.9M76.6 2195.44h-2.9M76.6 2188.09h-2.9M76.6 2180.75h-2.9M76.6 2173.4h-2.9M76.6 2158.72h-2.9M76.6 2151.37h-2.9M76.6 2144.03h-2.9M76.6 2136.68h-2.9M76.6 2122h-2.9M76.6 2114.65h-2.9M76.6 2107.31h-2.9M76.6 2099.96h-2.9M76.6 2085.28h-2.9M76.6 2077.93h-2.9M76.6 2070.59h-2.9M76.6 2063.24h-2.9M76.6 2048.56h-2.9M168.36 2240.5v3M177.64 2240.5v3M184.23 2240.5v3M189.34 2240.5v3M193.51 2240.5v3M197.04 2240.5v3M200.09 2240.5v3M202.79 2240.5v3M219.14 2240.5v3M227.29 2240.5v3M233.08 2240.5v3M237.56 2240.5v3M241.23 2240.5v3M244.33 2240.5v3M247.01 2240.5v3M249.38 2240.5v3M265.44 2240.5v3M130.38 2240.5v3M110.62 2240.5v3M136.37 2240.5v3M104.63 2240.5v3M140.29 2240.5v3M100.71 2240.5v3M143.16 2240.5v3M97.84 2240.5v3M145.41 2240.5v3M95.59 2240.5v3M147.27 2240.5v3M93.73 2240.5v3M148.84 2240.5v3M92.16 2240.5v3M150.21 2240.5v3M90.79 2240.5v3M151.42 2240.5v3M89.58 2240.5v3" stroke="#111" stroke-width="1.0" fill="none"/>
<text x="176.9" y="2278.9" font-size="19.9" text-anchor="middle" >CD34-PerCP</text>
<text transform="translate(36.3 2136.9) rotate(-90)" font-size="19.9" text-anchor="middle" >SSC-A</text>
<polygon points="106.8,2181.7 186.7,2183.8 176.6,2239.6 93.4,2239.6" fill="none" stroke="#000" stroke-width="1.3" stroke-linejoin="miter" />
<polygon points="198.7,2183.8 238.9,2180.3 261.7,2200.6 259.5,2237.9 182.2,2239.9" fill="none" stroke="#000" stroke-width="1.3" stroke-linejoin="miter" />
<text x="123.2" y="2170.1" font-size="23" >CD34 FMO</text>
<g transform="translate(344.6 2046.9)" filter="url(#f6)"><g filter="url(#bl5)"><path d="M30,188 L55,154 L95,134 L150,130 L176,144 L190,168 L190,194 L8,194 L8,188 Z" fill="url(#q25)"/></g><g filter="url(#bl2)"><path d="M14,194 L18,183 L25.9,175.3 L59.3,167.4 L92.8,163.2 L117.9,158.5 L143,151.8 L161,151 L175.2,157.9 L179,171.3 L176,185.7 L168,194 Z" fill="#fff" fill-opacity="0.09"/></g><g filter="url(#bl2)"><path d="M19.5,194 L22.5,185.5 L27,179.5 L59.3,171.4 L92.8,167.2 L117.9,162.5 L143,155.8 L159,155 L171,160.5 L174.5,171.3 L171.5,184 L163,194 Z" fill="#fff" fill-opacity="0.27"/></g><g clip-path="url(#cf6)"><ellipse cx="76" cy="181.5" rx="46" ry="12" fill="url(#q26)" transform="rotate(-5 76 181.5)"/><ellipse cx="138" cy="176" rx="56" ry="30" fill="url(#q27)" transform="rotate(-16 138 176)"/><ellipse cx="138" cy="182.6" rx="29" ry="13.5" fill="url(#q28)" transform="rotate(-4 138 182.6)"/><ellipse cx="138.2" cy="183.6" rx="9.6" ry="5" fill="url(#q29)" transform="rotate(-3 138.2 183.6)"/></g></g>
<rect x="344.6" y="2046.9" width="193.7" height="193.6" fill="none" stroke="#1a1a1a" stroke-width="1.4" />
<text x="336.4" y="2243.8" font-size="11.8" text-anchor="end" class="s" >0</text>
<text x="336.4" y="2207.08" font-size="11.8" text-anchor="end" class="s" >50K</text>
<text x="336.4" y="2170.36" font-size="11.8" text-anchor="end" class="s" >100K</text>
<text x="336.4" y="2133.64" font-size="11.8" text-anchor="end" class="s" >150K</text>
<text x="336.4" y="2096.92" font-size="11.8" text-anchor="end" class="s" >200K</text>
<text x="336.4" y="2060.2" font-size="11.8" text-anchor="end" class="s" >250K</text>
<rect x="385.9" y="2240.5" width="5.2" height="3.6" fill="#111" />
<text x="348.2" y="2260.8" font-size="11.8" class="s">-10<tspan dy="-4.4" font-size="7.2">3</tspan></text>
<text x="415.9" y="2260.8" font-size="11.8" class="s">10<tspan dy="-4.4" font-size="7.2">3</tspan></text>
<text x="469.3" y="2260.8" font-size="11.8" class="s">10<tspan dy="-4.4" font-size="7.2">4</tspan></text>
<text x="514.3" y="2260.8" font-size="11.8" class="s">10<tspan dy="-4.4" font-size="7.2">5</tspan></text>
<text x="388.8" y="2260.8" font-size="11.8" text-anchor="middle" class="s" >0</text>
<path d="M344.6 2239.5h-5.6M344.6 2202.78h-5.6M344.6 2166.06h-5.6M344.6 2129.34h-5.6M344.6 2092.62h-5.6M344.6 2055.9h-5.6M356.4 2240.5v5.6M388.5 2240.5v5.6M420.5 2240.5v5.6M473.2 2240.5v5.6M519.5 2240.5v5.6" stroke="#111" stroke-width="1.2" fill="none"/>
<path d="M344.6 2232.16h-2.9M344.6 2224.81h-2.9M344.6 2217.47h-2.9M344.6 2210.12h-2.9M344.6 2195.44h-2.9M344.6 2188.09h-2.9M344.6 2180.75h-2.9M344.6 2173.4h-2.9M344.6 2158.72h-2.9M344.6 2151.37h-2.9M344.6 2144.03h-2.9M344.6 2136.68h-2.9M344.6 2122h-2.9M344.6 2114.65h-2.9M344.6 2107.31h-2.9M344.6 2099.96h-2.9M344.6 2085.28h-2.9M344.6 2077.93h-2.9M344.6 2070.59h-2.9M344.6 2063.24h-2.9M344.6 2048.56h-2.9M436.36 2240.5v3M445.64 2240.5v3M452.23 2240.5v3M457.34 2240.5v3M461.51 2240.5v3M465.04 2240.5v3M468.09 2240.5v3M470.79 2240.5v3M487.14 2240.5v3M495.29 2240.5v3M501.08 2240.5v3M505.56 2240.5v3M509.23 2240.5v3M512.33 2240.5v3M515.01 2240.5v3M517.38 2240.5v3M533.44 2240.5v3M398.38 2240.5v3M378.62 2240.5v3M404.37 2240.5v3M372.63 2240.5v3M408.29 2240.5v3M368.71 2240.5v3M411.16 2240.5v3M365.84 2240.5v3M413.41 2240.5v3M363.59 2240.5v3M415.27 2240.5v3M361.73 2240.5v3M416.84 2240.5v3M360.16 2240.5v3M418.21 2240.5v3M358.79 2240.5v3M419.42 2240.5v3M357.58 2240.5v3" stroke="#111" stroke-width="1.0" fill="none"/>
<text x="444.9" y="2278.9" font-size="19.9" text-anchor="middle" >CD34-PerCP</text>
<text transform="translate(304.3 2136.9) rotate(-90)" font-size="19.9" text-anchor="middle" >SSC-A</text>
<polygon points="466.7,2183.8 506.9,2180.3 529.8,2200.6 527.8,2237.9 450,2239.9" fill="none" stroke="#000" stroke-width="1.1" stroke-linejoin="miter" />
<polygon points="374.6,2181.3 455,2183.8 445.5,2239.1 361.7,2239.1" fill="none" stroke="#0AAB5F" stroke-width="2.3" stroke-linejoin="miter" />
<polyline points="527.8,2237.9 529.8,2200.6 506.9,2180.3 466.7,2183.8 450,2239.9" fill="none" stroke="#FB4B5E" stroke-width="2.3" stroke-linejoin="miter" />
<text x="379.3" y="2170.1" font-size="23" >LECs</text>
<text x="464.2" y="2170.1" font-size="23" >BECs</text>
<g transform="translate(612.1 2046.9)" filter="url(#f7)"><g filter="url(#bl3)"><path d="M56,118 L100,118 L150,124 L180,138 L186,165 L182,192 L56,192 Z" fill="url(#q30)"/></g><g filter="url(#bl1_5)"><path d="M30.8,194 L31,140 C31,125 38,117.5 50,117.5 C62,117.5 69,124 69,138 L69,150 C72,156 80,158.5 90,159 L140,161 C165,162 176.5,168 176.5,178 C176.5,186 170,191 158,194 Z" fill="#fff" fill-opacity="0.08"/></g><g filter="url(#bl1_5)"><path d="M33.2,194 L33.4,140 C33.4,127 39,120 50,120 C59,120 65,125 66,134 C67.5,148 72,156 86,160 L140,164.5 C162,166 173,171 173,179 C173,186 167,191 156,194 Z" fill="#fff" fill-opacity="0.27"/></g><g clip-path="url(#cf7)"><ellipse cx="49" cy="156" rx="13" ry="50" fill="url(#q31)" transform="rotate(3 49 156)"/><ellipse cx="80" cy="176" rx="80" ry="26" fill="url(#q32)" transform="rotate(-2 80 176)"/><ellipse cx="106" cy="183.2" rx="80" ry="11" fill="url(#q33)" transform="rotate(-1.5 106 183.2)"/><ellipse cx="47.5" cy="171" rx="8" ry="28" fill="url(#q34)" transform="rotate(4 47.5 171)"/><ellipse cx="47" cy="181" rx="15" ry="16" fill="url(#q35)"/><ellipse cx="43.3" cy="188" rx="4.6" ry="6.6" fill="url(#q36)" transform="rotate(25 43.3 188)"/></g></g>
<rect x="612.1" y="2046.9" width="193.7" height="193.6" fill="none" stroke="#1a1a1a" stroke-width="1.4" />
<text x="603.9" y="2243.8" font-size="11.8" text-anchor="end" class="s" >0</text>
<text x="603.9" y="2207.08" font-size="11.8" text-anchor="end" class="s" >50K</text>
<text x="603.9" y="2170.36" font-size="11.8" text-anchor="end" class="s" >100K</text>
<text x="603.9" y="2133.64" font-size="11.8" text-anchor="end" class="s" >150K</text>
<text x="603.9" y="2096.92" font-size="11.8" text-anchor="end" class="s" >200K</text>
<text x="603.9" y="2060.2" font-size="11.8" text-anchor="end" class="s" >250K</text>
<rect x="653.4" y="2240.5" width="5.2" height="3.6" fill="#111" />
<text x="615.7" y="2260.8" font-size="11.8" class="s">-10<tspan dy="-4.4" font-size="7.2">3</tspan></text>
<text x="683.4" y="2260.8" font-size="11.8" class="s">10<tspan dy="-4.4" font-size="7.2">3</tspan></text>
<text x="736.8" y="2260.8" font-size="11.8" class="s">10<tspan dy="-4.4" font-size="7.2">4</tspan></text>
<text x="781.8" y="2260.8" font-size="11.8" class="s">10<tspan dy="-4.4" font-size="7.2">5</tspan></text>
<text x="656.3" y="2260.8" font-size="11.8" text-anchor="middle" class="s" >0</text>
<path d="M612.1 2239.5h-5.6M612.1 2202.78h-5.6M612.1 2166.06h-5.6M612.1 2129.34h-5.6M612.1 2092.62h-5.6M612.1 2055.9h-5.6M623.9 2240.5v5.6M656 2240.5v5.6M688 2240.5v5.6M740.7 2240.5v5.6M787 2240.5v5.6" stroke="#111" stroke-width="1.2" fill="none"/>
<path d="M612.1 2232.16h-2.9M612.1 2224.81h-2.9M612.1 2217.47h-2.9M612.1 2210.12h-2.9M612.1 2195.44h-2.9M612.1 2188.09h-2.9M612.1 2180.75h-2.9M612.1 2173.4h-2.9M612.1 2158.72h-2.9M612.1 2151.37h-2.9M612.1 2144.03h-2.9M612.1 2136.68h-2.9M612.1 2122h-2.9M612.1 2114.65h-2.9M612.1 2107.31h-2.9M612.1 2099.96h-2.9M612.1 2085.28h-2.9M612.1 2077.93h-2.9M612.1 2070.59h-2.9M612.1 2063.24h-2.9M612.1 2048.56h-2.9M703.86 2240.5v3M713.14 2240.5v3M719.73 2240.5v3M724.84 2240.5v3M729.01 2240.5v3M732.54 2240.5v3M735.59 2240.5v3M738.29 2240.5v3M754.64 2240.5v3M762.79 2240.5v3M768.58 2240.5v3M773.06 2240.5v3M776.73 2240.5v3M779.83 2240.5v3M782.51 2240.5v3M784.88 2240.5v3M800.94 2240.5v3M665.88 2240.5v3M646.12 2240.5v3M671.87 2240.5v3M640.13 2240.5v3M675.79 2240.5v3M636.21 2240.5v3M678.66 2240.5v3M633.34 2240.5v3M680.91 2240.5v3M631.09 2240.5v3M682.77 2240.5v3M629.23 2240.5v3M684.34 2240.5v3M627.66 2240.5v3M685.71 2240.5v3M626.29 2240.5v3M686.92 2240.5v3M625.08 2240.5v3" stroke="#111" stroke-width="1.0" fill="none"/>
<text x="712.4" y="2278.9" font-size="19.9" text-anchor="middle" >CD31-PE</text>
<text transform="translate(571.8 2136.9) rotate(-90)" font-size="19.9" text-anchor="middle" >SSC-A</text>
<polygon points="715,2180.5 798.7,2179.3 797.8,2239.6 703.7,2240.8" fill="none" stroke="#000" stroke-width="1.2" stroke-linejoin="miter" />
<text x="720.8" y="2160.4" font-size="23" >CD31+</text>
<g transform="translate(879.9 2046.9)" filter="url(#f8)"><ellipse cx="47" cy="164" rx="10" ry="42" fill="url(#q37)" transform="rotate(3 47 164)"/><ellipse cx="58" cy="176" rx="24" ry="12" fill="url(#q38)" transform="rotate(-20 58 176)"/><ellipse cx="46" cy="180" rx="9.5" ry="17" fill="url(#q39)" transform="rotate(6 46 180)"/><ellipse cx="44.6" cy="186.8" rx="6.2" ry="9" fill="url(#q40)" transform="rotate(8 44.6 186.8)"/></g>
<rect x="879.9" y="2046.9" width="193.7" height="193.6" fill="none" stroke="#1a1a1a" stroke-width="1.4" />
<text x="871.7" y="2243.8" font-size="11.8" text-anchor="end" class="s" >0</text>
<text x="871.7" y="2207.08" font-size="11.8" text-anchor="end" class="s" >50K</text>
<text x="871.7" y="2170.36" font-size="11.8" text-anchor="end" class="s" >100K</text>
<text x="871.7" y="2133.64" font-size="11.8" text-anchor="end" class="s" >150K</text>
<text x="871.7" y="2096.92" font-size="11.8" text-anchor="end" class="s" >200K</text>
<text x="871.7" y="2060.2" font-size="11.8" text-anchor="end" class="s" >250K</text>
<rect x="921.2" y="2240.5" width="5.2" height="3.6" fill="#111" />
<text x="883.5" y="2260.8" font-size="11.8" class="s">-10<tspan dy="-4.4" font-size="7.2">3</tspan></text>
<text x="951.2" y="2260.8" font-size="11.8" class="s">10<tspan dy="-4.4" font-size="7.2">3</tspan></text>
<text x="1004.6" y="2260.8" font-size="11.8" class="s">10<tspan dy="-4.4" font-size="7.2">4</tspan></text>
<text x="1049.6" y="2260.8" font-size="11.8" class="s">10<tspan dy="-4.4" font-size="7.2">5</tspan></text>
<text x="924.1" y="2260.8" font-size="11.8" text-anchor="middle" class="s" >0</text>
<path d="M879.9 2239.5h-5.6M879.9 2202.78h-5.6M879.9 2166.06h-5.6M879.9 2129.34h-5.6M879.9 2092.62h-5.6M879.9 2055.9h-5.6M891.7 2240.5v5.6M923.8 2240.5v5.6M955.8 2240.5v5.6M1008.5 2240.5v5.6M1054.8 2240.5v5.6" stroke="#111" stroke-width="1.2" fill="none"/>
<path d="M879.9 2232.16h-2.9M879.9 2224.81h-2.9M879.9 2217.47h-2.9M879.9 2210.12h-2.9M879.9 2195.44h-2.9M879.9 2188.09h-2.9M879.9 2180.75h-2.9M879.9 2173.4h-2.9M879.9 2158.72h-2.9M879.9 2151.37h-2.9M879.9 2144.03h-2.9M879.9 2136.68h-2.9M879.9 2122h-2.9M879.9 2114.65h-2.9M879.9 2107.31h-2.9M879.9 2099.96h-2.9M879.9 2085.28h-2.9M879.9 2077.93h-2.9M879.9 2070.59h-2.9M879.9 2063.24h-2.9M879.9 2048.56h-2.9M971.66 2240.5v3M980.94 2240.5v3M987.53 2240.5v3M992.64 2240.5v3M996.81 2240.5v3M1000.34 2240.5v3M1003.39 2240.5v3M1006.09 2240.5v3M1022.44 2240.5v3M1030.59 2240.5v3M1036.38 2240.5v3M1040.86 2240.5v3M1044.53 2240.5v3M1047.63 2240.5v3M1050.31 2240.5v3M1052.68 2240.5v3M1068.74 2240.5v3M933.68 2240.5v3M913.92 2240.5v3M939.67 2240.5v3M907.93 2240.5v3M943.59 2240.5v3M904.01 2240.5v3M946.46 2240.5v3M901.14 2240.5v3M948.71 2240.5v3M898.89 2240.5v3M950.57 2240.5v3M897.03 2240.5v3M952.14 2240.5v3M895.46 2240.5v3M953.51 2240.5v3M894.09 2240.5v3M954.72 2240.5v3M892.88 2240.5v3" stroke="#111" stroke-width="1.0" fill="none"/>
<text x="980.2" y="2278.9" font-size="19.9" text-anchor="middle" >CD31-PE</text>
<text transform="translate(839.6 2136.9) rotate(-90)" font-size="19.9" text-anchor="middle" >SSC-A</text>
<polygon points="983.7,2180.8 1066.5,2179.3 1065.9,2239.1 972.1,2240.8" fill="none" stroke="#000" stroke-width="1.2" stroke-linejoin="miter" />
<text x="940.6" y="2167.9" font-size="23" >CD31 FMO</text>
<line x1="276.7" y1="1983.6" x2="310.2" y2="1983.6" stroke="#000" stroke-width="2.3" stroke-linecap="butt" />
<polygon points="322.2,1983.6 304.7,1992.8 310.2,1983.6 304.7,1974.4" fill="#000" stroke="none" stroke-width="0" stroke-linejoin="miter" />
<line x1="544.7" y1="1983.6" x2="577.9" y2="1983.6" stroke="#000" stroke-width="2.3" stroke-linecap="butt" />
<polygon points="589.9,1983.6 572.4,1992.8 577.9,1983.6 572.4,1974.4" fill="#000" stroke="none" stroke-width="0" stroke-linejoin="miter" />
<line x1="814.7" y1="1983.6" x2="847.9" y2="1983.6" stroke="#000" stroke-width="2.3" stroke-linecap="butt" />
<polygon points="859.9,1983.6 842.4,1992.8 847.9,1983.6 842.4,1974.4" fill="#000" stroke="none" stroke-width="0" stroke-linejoin="miter" />
<line x1="850.7" y1="2004.8" x2="826.74" y2="2027.88" stroke="#000" stroke-width="2.3" stroke-linecap="butt" />
<polygon points="818.1,2036.2 824.32,2017.43 826.74,2027.88 837.09,2030.69" fill="#000" stroke="none" stroke-width="0" stroke-linejoin="miter" />
<line x1="591.9" y1="2239.6" x2="558.7" y2="2239.6" stroke="#000" stroke-width="2.3" stroke-linecap="butt" />
<polygon points="546.7,2239.6 564.2,2230.4 558.7,2239.6 564.2,2248.8" fill="#000" stroke="none" stroke-width="0" stroke-linejoin="miter" />
</svg></body></html>
